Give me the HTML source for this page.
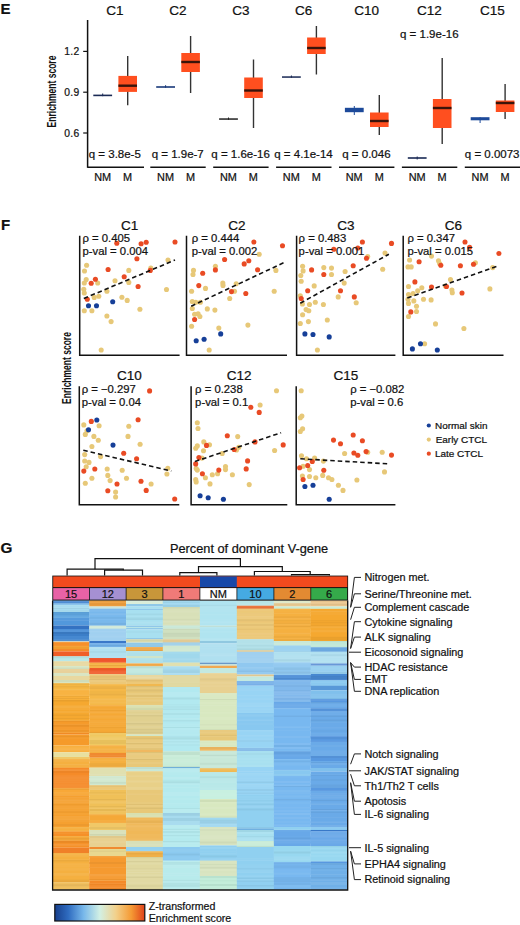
<!DOCTYPE html><html><head><meta charset="utf-8"><style>html,body{margin:0;padding:0;background:#fff;width:520px;height:925px;overflow:hidden}svg{display:block}text{font-family:"Liberation Sans",sans-serif;fill:#111;stroke:#111;stroke-width:0.22px}</style></head><body>
<svg width="520" height="925" viewBox="0 0 520 925">
<text x="0.5" y="14.3" font-size="15" font-weight="bold">E</text>
<line x1="87.6" y1="20" x2="87.6" y2="167.8" stroke="#111" stroke-width="1.5"/>
<line x1="83.2" y1="51.4" x2="87.6" y2="51.4" stroke="#111" stroke-width="1.2"/>
<text x="79.8" y="55.0" font-size="10.3" letter-spacing="0.45" text-anchor="end">1.2</text>
<line x1="83.2" y1="92.2" x2="87.6" y2="92.2" stroke="#111" stroke-width="1.2"/>
<text x="79.8" y="95.8" font-size="10.3" letter-spacing="0.45" text-anchor="end">0.9</text>
<line x1="83.2" y1="133.0" x2="87.6" y2="133.0" stroke="#111" stroke-width="1.2"/>
<text x="79.8" y="136.6" font-size="10.3" letter-spacing="0.45" text-anchor="end">0.6</text>
<text transform="translate(56,91.5) rotate(-90) scale(0.675,1)" x="0" y="0" font-size="12.6" font-weight="bold" style="stroke-width:0" text-anchor="middle">Enrichment score</text>
<text x="115.0" y="15.2" font-size="13.5" text-anchor="middle">C1</text>
<line x1="87.6" y1="167.3" x2="144.0" y2="167.3" stroke="#111" stroke-width="1.5"/>
<text x="102.6" y="181" font-size="10.9" text-anchor="middle">NM</text>
<text x="127.6" y="181" font-size="10.9" text-anchor="middle">M</text>
<text x="114.8" y="158" font-size="11.5" text-anchor="middle">q = 3.8e-5</text>
<line x1="102.7" y1="93.5" x2="102.7" y2="96.2" stroke="#1a2a55" stroke-width="1"/>
<rect x="93.3" y="94.6" width="18.8" height="1.6" fill="#1a2a55"/>
<line x1="127.7" y1="56" x2="127.7" y2="105.3" stroke="#333" stroke-width="1.4"/>
<rect x="118.4" y="75.9" width="18.6" height="16.0" fill="#ff4f1f"/>
<rect x="118.4" y="84.5" width="18.6" height="2.4" fill="#3a140a"/>
<text x="177.9" y="15.2" font-size="13.5" text-anchor="middle">C2</text>
<line x1="150.3" y1="167.3" x2="205.7" y2="167.3" stroke="#111" stroke-width="1.5"/>
<text x="165.5" y="181" font-size="10.9" text-anchor="middle">NM</text>
<text x="190.5" y="181" font-size="10.9" text-anchor="middle">M</text>
<text x="177.7" y="158" font-size="11.5" text-anchor="middle">q = 1.9e-7</text>
<line x1="165.6" y1="85.2" x2="165.6" y2="87.8" stroke="#1a3a7a" stroke-width="1"/>
<rect x="156.2" y="86.2" width="18.8" height="1.6" fill="#1a3a7a"/>
<line x1="190.6" y1="36" x2="190.6" y2="93" stroke="#333" stroke-width="1.4"/>
<rect x="181.3" y="53" width="18.6" height="19.0" fill="#ff4f1f"/>
<rect x="181.3" y="60.8" width="18.6" height="2.4" fill="#3a140a"/>
<text x="240.8" y="15.2" font-size="13.5" text-anchor="middle">C3</text>
<line x1="213.2" y1="167.3" x2="268.6" y2="167.3" stroke="#111" stroke-width="1.5"/>
<text x="228.4" y="181" font-size="10.9" text-anchor="middle">NM</text>
<text x="253.4" y="181" font-size="10.9" text-anchor="middle">M</text>
<text x="240.6" y="158" font-size="11.5" text-anchor="middle">q = 1.6e-16</text>
<line x1="228.5" y1="117.5" x2="228.5" y2="119.8" stroke="#222" stroke-width="1"/>
<rect x="219.1" y="118.3" width="18.8" height="1.5" fill="#222"/>
<line x1="253.5" y1="59.5" x2="253.5" y2="128" stroke="#333" stroke-width="1.4"/>
<rect x="244.2" y="77.5" width="18.6" height="20.5" fill="#ff4f1f"/>
<rect x="244.2" y="89.3" width="18.6" height="2.4" fill="#3a140a"/>
<text x="303.7" y="15.2" font-size="13.5" text-anchor="middle">C6</text>
<line x1="276.1" y1="167.3" x2="331.5" y2="167.3" stroke="#111" stroke-width="1.5"/>
<text x="291.3" y="181" font-size="10.9" text-anchor="middle">NM</text>
<text x="316.3" y="181" font-size="10.9" text-anchor="middle">M</text>
<text x="303.5" y="158" font-size="11.5" text-anchor="middle">q = 4.1e-14</text>
<line x1="291.4" y1="75.5" x2="291.4" y2="77.8" stroke="#1a2a55" stroke-width="1"/>
<rect x="282.0" y="76.3" width="18.8" height="1.5" fill="#1a2a55"/>
<line x1="316.4" y1="26" x2="316.4" y2="74.5" stroke="#333" stroke-width="1.4"/>
<rect x="307.1" y="37.5" width="18.6" height="16.5" fill="#ff4f1f"/>
<rect x="307.1" y="46.8" width="18.6" height="2.4" fill="#3a140a"/>
<text x="366.6" y="15.2" font-size="13.5" text-anchor="middle">C10</text>
<line x1="339.0" y1="167.3" x2="394.4" y2="167.3" stroke="#111" stroke-width="1.5"/>
<text x="354.2" y="181" font-size="10.9" text-anchor="middle">NM</text>
<text x="379.2" y="181" font-size="10.9" text-anchor="middle">M</text>
<text x="366.4" y="158" font-size="11.5" text-anchor="middle">q = 0.046</text>
<line x1="354.3" y1="106" x2="354.3" y2="115" stroke="#1d4a9a" stroke-width="1"/>
<rect x="344.9" y="107.8" width="18.8" height="4.4" fill="#1d4a9a"/>
<line x1="379.3" y1="95" x2="379.3" y2="135" stroke="#333" stroke-width="1.4"/>
<rect x="370.0" y="112.5" width="18.6" height="14.5" fill="#ff4f1f"/>
<rect x="370.0" y="119.8" width="18.6" height="2.4" fill="#3a140a"/>
<text x="429.5" y="15.2" font-size="13.5" text-anchor="middle">C12</text>
<line x1="401.9" y1="167.3" x2="457.3" y2="167.3" stroke="#111" stroke-width="1.5"/>
<text x="417.1" y="181" font-size="10.9" text-anchor="middle">NM</text>
<text x="442.1" y="181" font-size="10.9" text-anchor="middle">M</text>
<text x="429.3" y="38" font-size="11.5" text-anchor="middle">q = 1.9e-16</text>
<line x1="417.2" y1="156.5" x2="417.2" y2="159.5" stroke="#1a2a55" stroke-width="1"/>
<rect x="407.8" y="157.2" width="18.8" height="1.6" fill="#1a2a55"/>
<line x1="442.2" y1="58" x2="442.2" y2="144" stroke="#333" stroke-width="1.4"/>
<rect x="432.9" y="99" width="18.6" height="29.0" fill="#ff4f1f"/>
<rect x="432.9" y="106.8" width="18.6" height="2.4" fill="#3a140a"/>
<text x="492.4" y="15.2" font-size="13.5" text-anchor="middle">C15</text>
<line x1="464.8" y1="167.3" x2="520.2" y2="167.3" stroke="#111" stroke-width="1.5"/>
<text x="480.0" y="181" font-size="10.9" text-anchor="middle">NM</text>
<text x="505.0" y="181" font-size="10.9" text-anchor="middle">M</text>
<text x="492.2" y="158" font-size="11.5" text-anchor="middle">q = 0.0073</text>
<line x1="480.1" y1="117.2" x2="480.1" y2="123" stroke="#1d4a9a" stroke-width="1"/>
<rect x="470.7" y="117.2" width="18.8" height="3.1" fill="#1d4a9a"/>
<line x1="505.1" y1="84" x2="505.1" y2="119" stroke="#333" stroke-width="1.4"/>
<rect x="495.8" y="100.5" width="18.6" height="11.5" fill="#ff4f1f"/>
<rect x="495.8" y="101.8" width="18.6" height="2.4" fill="#3a140a"/>
<text x="1" y="229.5" font-size="15" font-weight="bold">F</text>
<text transform="translate(70.5,368) rotate(-90) scale(0.675,1)" x="0" y="0" font-size="12.6" font-weight="bold" style="stroke-width:0" text-anchor="middle">Enrichment score</text>
<text x="129.7" y="229.5" font-size="13.5" text-anchor="middle">C1</text>
<circle cx="86.6" cy="265.3" r="2.55" fill="#e7c878"/>
<circle cx="84.5" cy="271" r="2.55" fill="#e7c878"/>
<circle cx="86.2" cy="279.6" r="2.55" fill="#e7c878"/>
<circle cx="84.3" cy="283" r="2.55" fill="#e7c878"/>
<circle cx="83.8" cy="289.3" r="2.55" fill="#e7c878"/>
<circle cx="84.3" cy="293" r="2.55" fill="#e7c878"/>
<circle cx="97.7" cy="283" r="2.55" fill="#e7c878"/>
<circle cx="115" cy="280.8" r="2.55" fill="#e7c878"/>
<circle cx="128.8" cy="270.4" r="2.55" fill="#e7c878"/>
<circle cx="128.8" cy="282.4" r="2.55" fill="#e7c878"/>
<circle cx="150.8" cy="268" r="2.55" fill="#e7c878"/>
<circle cx="168" cy="260" r="2.55" fill="#e7c878"/>
<circle cx="166.5" cy="289.5" r="2.55" fill="#e7c878"/>
<circle cx="106.9" cy="291.2" r="2.55" fill="#e7c878"/>
<circle cx="98.8" cy="296.2" r="2.55" fill="#e7c878"/>
<circle cx="94.2" cy="297.4" r="2.55" fill="#e7c878"/>
<circle cx="121.9" cy="297.2" r="2.55" fill="#e7c878"/>
<circle cx="127.2" cy="300.4" r="2.55" fill="#e7c878"/>
<circle cx="84.3" cy="310.8" r="2.55" fill="#e7c878"/>
<circle cx="91.9" cy="310.8" r="2.55" fill="#e7c878"/>
<circle cx="139.9" cy="309.2" r="2.55" fill="#e7c878"/>
<circle cx="106.9" cy="316" r="2.55" fill="#e7c878"/>
<circle cx="111.1" cy="321.6" r="2.55" fill="#e7c878"/>
<circle cx="101.2" cy="350" r="2.55" fill="#e7c878"/>
<circle cx="116.8" cy="243.2" r="2.55" fill="#e94b24"/>
<circle cx="141.1" cy="243.8" r="2.55" fill="#e94b24"/>
<circle cx="146.2" cy="242.2" r="2.55" fill="#e94b24"/>
<circle cx="175" cy="242" r="2.55" fill="#e94b24"/>
<circle cx="136.9" cy="258.8" r="2.55" fill="#e94b24"/>
<circle cx="108.1" cy="269.5" r="2.55" fill="#e94b24"/>
<circle cx="124.2" cy="276.8" r="2.55" fill="#e94b24"/>
<circle cx="95.4" cy="279.2" r="2.55" fill="#e94b24"/>
<circle cx="91.2" cy="283.3" r="2.55" fill="#e94b24"/>
<circle cx="138.1" cy="286.5" r="2.55" fill="#e94b24"/>
<circle cx="150.3" cy="270.4" r="2.55" fill="#e94b24"/>
<circle cx="87.3" cy="299.2" r="2.55" fill="#e94b24"/>
<circle cx="88.5" cy="305.7" r="2.55" fill="#163f98"/>
<circle cx="96.5" cy="305.7" r="2.55" fill="#163f98"/>
<circle cx="112.7" cy="301.8" r="2.55" fill="#163f98"/>
<line x1="83.8" y1="298.5" x2="175" y2="260" stroke="#111" stroke-width="1.6" stroke-dasharray="4.5,3"/>
<polyline points="79.7,235.8 79.7,355.2 179.6,355.2" fill="none" stroke="#111" stroke-width="1.5"/>
<text x="82.5" y="242.1" font-size="11.3">ρ = 0.405</text>
<text x="82.5" y="255.3" font-size="11.3">p-val = 0.004</text>
<text x="236.8" y="229.5" font-size="13.5" text-anchor="middle">C2</text>
<circle cx="259.2" cy="254.2" r="2.55" fill="#e7c878"/>
<circle cx="215.4" cy="266.2" r="2.55" fill="#e7c878"/>
<circle cx="193.5" cy="270.4" r="2.55" fill="#e7c878"/>
<circle cx="193" cy="274.5" r="2.55" fill="#e7c878"/>
<circle cx="222.8" cy="283.1" r="2.55" fill="#e7c878"/>
<circle cx="223" cy="285.4" r="2.55" fill="#e7c878"/>
<circle cx="236.2" cy="283.8" r="2.55" fill="#e7c878"/>
<circle cx="205.5" cy="288.4" r="2.55" fill="#e7c878"/>
<circle cx="191.6" cy="291.2" r="2.55" fill="#e7c878"/>
<circle cx="234.5" cy="291.2" r="2.55" fill="#e7c878"/>
<circle cx="229.7" cy="298.5" r="2.55" fill="#e7c878"/>
<circle cx="275.9" cy="270.4" r="2.55" fill="#e7c878"/>
<circle cx="274.2" cy="291.2" r="2.55" fill="#e7c878"/>
<circle cx="192.3" cy="301.5" r="2.55" fill="#e7c878"/>
<circle cx="195.8" cy="302.2" r="2.55" fill="#e7c878"/>
<circle cx="200.4" cy="302.2" r="2.55" fill="#e7c878"/>
<circle cx="192.3" cy="308.5" r="2.55" fill="#e7c878"/>
<circle cx="207.3" cy="308.9" r="2.55" fill="#e7c878"/>
<circle cx="214.9" cy="310.1" r="2.55" fill="#e7c878"/>
<circle cx="194.6" cy="314.2" r="2.55" fill="#e7c878"/>
<circle cx="198.1" cy="313.8" r="2.55" fill="#e7c878"/>
<circle cx="199.9" cy="316.5" r="2.55" fill="#e7c878"/>
<circle cx="191.6" cy="326.2" r="2.55" fill="#e7c878"/>
<circle cx="218.8" cy="328.1" r="2.55" fill="#e7c878"/>
<circle cx="247.9" cy="325.1" r="2.55" fill="#e7c878"/>
<circle cx="209.2" cy="350" r="2.55" fill="#e7c878"/>
<circle cx="253.9" cy="242" r="2.55" fill="#e94b24"/>
<circle cx="282.5" cy="245.7" r="2.55" fill="#e94b24"/>
<circle cx="224.6" cy="259.5" r="2.55" fill="#e94b24"/>
<circle cx="244.2" cy="263.9" r="2.55" fill="#e94b24"/>
<circle cx="248.8" cy="260.7" r="2.55" fill="#e94b24"/>
<circle cx="215.4" cy="269.9" r="2.55" fill="#e94b24"/>
<circle cx="202.7" cy="273.2" r="2.55" fill="#e94b24"/>
<circle cx="257.6" cy="269.7" r="2.55" fill="#e94b24"/>
<circle cx="198.8" cy="285.6" r="2.55" fill="#e94b24"/>
<circle cx="231.5" cy="291.6" r="2.55" fill="#e94b24"/>
<circle cx="245.8" cy="293.5" r="2.55" fill="#e94b24"/>
<circle cx="194.6" cy="319.5" r="2.55" fill="#e94b24"/>
<circle cx="196.2" cy="340.8" r="2.55" fill="#163f98"/>
<circle cx="204.1" cy="339.2" r="2.55" fill="#163f98"/>
<circle cx="220.7" cy="333.9" r="2.55" fill="#163f98"/>
<line x1="191.2" y1="306.2" x2="283.5" y2="262.8" stroke="#111" stroke-width="1.6" stroke-dasharray="4.5,3"/>
<polyline points="186.5,235.8 186.5,355.2 287,355.2" fill="none" stroke="#111" stroke-width="1.5"/>
<text x="191.7" y="242.1" font-size="11.3">ρ = 0.444</text>
<text x="191.7" y="255.3" font-size="11.3">p-val = 0.002</text>
<text x="346.0" y="229.5" font-size="13.5" text-anchor="middle">C3</text>
<circle cx="385" cy="253.1" r="2.55" fill="#e7c878"/>
<circle cx="367.7" cy="256.5" r="2.55" fill="#e7c878"/>
<circle cx="302.6" cy="266.2" r="2.55" fill="#e7c878"/>
<circle cx="303.1" cy="270.9" r="2.55" fill="#e7c878"/>
<circle cx="300.8" cy="275.5" r="2.55" fill="#e7c878"/>
<circle cx="301.2" cy="281.2" r="2.55" fill="#e7c878"/>
<circle cx="323.8" cy="267.6" r="2.55" fill="#e7c878"/>
<circle cx="331.5" cy="268.1" r="2.55" fill="#e7c878"/>
<circle cx="331.5" cy="274.5" r="2.55" fill="#e7c878"/>
<circle cx="345.1" cy="271.5" r="2.55" fill="#e7c878"/>
<circle cx="382.7" cy="269.2" r="2.55" fill="#e7c878"/>
<circle cx="344.2" cy="283.1" r="2.55" fill="#e7c878"/>
<circle cx="314.2" cy="285.9" r="2.55" fill="#e7c878"/>
<circle cx="338.2" cy="296.9" r="2.55" fill="#e7c878"/>
<circle cx="356.2" cy="302.7" r="2.55" fill="#e7c878"/>
<circle cx="300.3" cy="295.8" r="2.55" fill="#e7c878"/>
<circle cx="302.4" cy="303.9" r="2.55" fill="#e7c878"/>
<circle cx="309.5" cy="304.5" r="2.55" fill="#e7c878"/>
<circle cx="315.3" cy="302.2" r="2.55" fill="#e7c878"/>
<circle cx="323.4" cy="304.5" r="2.55" fill="#e7c878"/>
<circle cx="306.1" cy="309.6" r="2.55" fill="#e7c878"/>
<circle cx="308.8" cy="310.8" r="2.55" fill="#e7c878"/>
<circle cx="302.6" cy="314.7" r="2.55" fill="#e7c878"/>
<circle cx="300.3" cy="323.5" r="2.55" fill="#e7c878"/>
<circle cx="308.4" cy="321.6" r="2.55" fill="#e7c878"/>
<circle cx="327.3" cy="320" r="2.55" fill="#e7c878"/>
<circle cx="317.4" cy="350" r="2.55" fill="#e7c878"/>
<circle cx="362.4" cy="242" r="2.55" fill="#e94b24"/>
<circle cx="391.5" cy="243.4" r="2.55" fill="#e94b24"/>
<circle cx="333.8" cy="249.2" r="2.55" fill="#e94b24"/>
<circle cx="357.8" cy="248" r="2.55" fill="#e94b24"/>
<circle cx="366.5" cy="258.2" r="2.55" fill="#e94b24"/>
<circle cx="353.2" cy="265.8" r="2.55" fill="#e94b24"/>
<circle cx="311.6" cy="269.9" r="2.55" fill="#e94b24"/>
<circle cx="323.8" cy="274.5" r="2.55" fill="#e94b24"/>
<circle cx="307.7" cy="290.7" r="2.55" fill="#e94b24"/>
<circle cx="340.5" cy="290.7" r="2.55" fill="#e94b24"/>
<circle cx="354.3" cy="296.9" r="2.55" fill="#e94b24"/>
<circle cx="301.2" cy="298.5" r="2.55" fill="#e94b24"/>
<circle cx="304.9" cy="333.9" r="2.55" fill="#163f98"/>
<circle cx="313" cy="334.5" r="2.55" fill="#163f98"/>
<circle cx="329.2" cy="336.9" r="2.55" fill="#163f98"/>
<line x1="300.3" y1="303.2" x2="388.9" y2="254.2" stroke="#111" stroke-width="1.6" stroke-dasharray="4.5,3"/>
<polyline points="296.6,235.8 296.6,355.2 395.4,355.2" fill="none" stroke="#111" stroke-width="1.5"/>
<text x="298.6" y="242.1" font-size="11.3">ρ = 0.483</text>
<text x="298.6" y="255.3" font-size="11.3">p-val = 0.001</text>
<text x="453.4" y="229.5" font-size="13.5" text-anchor="middle">C6</text>
<circle cx="409.6" cy="260" r="2.55" fill="#e7c878"/>
<circle cx="408" cy="266.9" r="2.55" fill="#e7c878"/>
<circle cx="411.2" cy="266.9" r="2.55" fill="#e7c878"/>
<circle cx="431.5" cy="256.1" r="2.55" fill="#e7c878"/>
<circle cx="438.5" cy="260.7" r="2.55" fill="#e7c878"/>
<circle cx="439.6" cy="263.5" r="2.55" fill="#e7c878"/>
<circle cx="475.4" cy="262.8" r="2.55" fill="#e7c878"/>
<circle cx="492.7" cy="267.6" r="2.55" fill="#e7c878"/>
<circle cx="450.5" cy="279.6" r="2.55" fill="#e7c878"/>
<circle cx="445.4" cy="286.1" r="2.55" fill="#e7c878"/>
<circle cx="451.9" cy="290" r="2.55" fill="#e7c878"/>
<circle cx="452.3" cy="292.8" r="2.55" fill="#e7c878"/>
<circle cx="489.9" cy="288.9" r="2.55" fill="#e7c878"/>
<circle cx="408.5" cy="286.5" r="2.55" fill="#e7c878"/>
<circle cx="417.7" cy="290.7" r="2.55" fill="#e7c878"/>
<circle cx="421.8" cy="287.7" r="2.55" fill="#e7c878"/>
<circle cx="413.1" cy="293.5" r="2.55" fill="#e7c878"/>
<circle cx="408.5" cy="294.6" r="2.55" fill="#e7c878"/>
<circle cx="423.5" cy="299.2" r="2.55" fill="#e7c878"/>
<circle cx="431.1" cy="299.9" r="2.55" fill="#e7c878"/>
<circle cx="408" cy="299.2" r="2.55" fill="#e7c878"/>
<circle cx="408.5" cy="303.4" r="2.55" fill="#e7c878"/>
<circle cx="413.8" cy="300.9" r="2.55" fill="#e7c878"/>
<circle cx="416.5" cy="306.2" r="2.55" fill="#e7c878"/>
<circle cx="416.5" cy="311.5" r="2.55" fill="#e7c878"/>
<circle cx="408.5" cy="316.5" r="2.55" fill="#e7c878"/>
<circle cx="435.5" cy="323.9" r="2.55" fill="#e7c878"/>
<circle cx="463.9" cy="328.5" r="2.55" fill="#e7c878"/>
<circle cx="424.6" cy="343.8" r="2.55" fill="#e7c878"/>
<circle cx="465" cy="242" r="2.55" fill="#e94b24"/>
<circle cx="469.6" cy="247.3" r="2.55" fill="#e94b24"/>
<circle cx="498.9" cy="253.5" r="2.55" fill="#e94b24"/>
<circle cx="419.1" cy="261.8" r="2.55" fill="#e94b24"/>
<circle cx="440.8" cy="265.3" r="2.55" fill="#e94b24"/>
<circle cx="460.4" cy="265.8" r="2.55" fill="#e94b24"/>
<circle cx="473.5" cy="264.2" r="2.55" fill="#e94b24"/>
<circle cx="414.9" cy="281.9" r="2.55" fill="#e94b24"/>
<circle cx="431.5" cy="287" r="2.55" fill="#e94b24"/>
<circle cx="446.5" cy="286.5" r="2.55" fill="#e94b24"/>
<circle cx="462" cy="293" r="2.55" fill="#e94b24"/>
<circle cx="410.8" cy="311.9" r="2.55" fill="#e94b24"/>
<circle cx="412.4" cy="348.9" r="2.55" fill="#163f98"/>
<circle cx="420.5" cy="343.8" r="2.55" fill="#163f98"/>
<circle cx="437.3" cy="350" r="2.55" fill="#163f98"/>
<line x1="407.3" y1="298.1" x2="498.5" y2="265.8" stroke="#111" stroke-width="1.6" stroke-dasharray="4.5,3"/>
<polyline points="403.2,235.8 403.2,355.2 503.5,355.2" fill="none" stroke="#111" stroke-width="1.5"/>
<text x="407.4" y="242.1" font-size="11.3">ρ = 0.347</text>
<text x="407.4" y="255.3" font-size="11.3">p-val = 0.015</text>
<text x="129.3" y="380.0" font-size="13.5" text-anchor="middle">C10</text>
<circle cx="83.8" cy="424.9" r="2.55" fill="#e7c878"/>
<circle cx="99.1" cy="425.8" r="2.55" fill="#e7c878"/>
<circle cx="128.8" cy="426.3" r="2.55" fill="#e7c878"/>
<circle cx="87" cy="430.7" r="2.55" fill="#e7c878"/>
<circle cx="85.3" cy="434.4" r="2.55" fill="#e7c878"/>
<circle cx="93.9" cy="436.4" r="2.55" fill="#e7c878"/>
<circle cx="98.3" cy="440.2" r="2.55" fill="#e7c878"/>
<circle cx="128" cy="436.4" r="2.55" fill="#e7c878"/>
<circle cx="140.1" cy="444.2" r="2.55" fill="#e7c878"/>
<circle cx="91.9" cy="446.5" r="2.55" fill="#e7c878"/>
<circle cx="84.7" cy="454.6" r="2.55" fill="#e7c878"/>
<circle cx="100.6" cy="456.6" r="2.55" fill="#e7c878"/>
<circle cx="84.7" cy="461" r="2.55" fill="#e7c878"/>
<circle cx="89" cy="462.4" r="2.55" fill="#e7c878"/>
<circle cx="86.2" cy="466.7" r="2.55" fill="#e7c878"/>
<circle cx="107.2" cy="469" r="2.55" fill="#e7c878"/>
<circle cx="122.2" cy="470.2" r="2.55" fill="#e7c878"/>
<circle cx="167.8" cy="468.2" r="2.55" fill="#e7c878"/>
<circle cx="166.9" cy="474" r="2.55" fill="#e7c878"/>
<circle cx="107.8" cy="475.4" r="2.55" fill="#e7c878"/>
<circle cx="91.9" cy="478.3" r="2.55" fill="#e7c878"/>
<circle cx="110.1" cy="480.6" r="2.55" fill="#e7c878"/>
<circle cx="126.5" cy="478.3" r="2.55" fill="#e7c878"/>
<circle cx="151.1" cy="484" r="2.55" fill="#e7c878"/>
<circle cx="85.3" cy="483.2" r="2.55" fill="#e7c878"/>
<circle cx="115.6" cy="492.1" r="2.55" fill="#e7c878"/>
<circle cx="115.6" cy="497" r="2.55" fill="#e7c878"/>
<circle cx="149.6" cy="390.9" r="2.55" fill="#e94b24"/>
<circle cx="91.3" cy="421.4" r="2.55" fill="#e94b24"/>
<circle cx="138.1" cy="419.7" r="2.55" fill="#e94b24"/>
<circle cx="123.7" cy="453.2" r="2.55" fill="#e94b24"/>
<circle cx="136.6" cy="458.7" r="2.55" fill="#e94b24"/>
<circle cx="83.8" cy="471.1" r="2.55" fill="#e94b24"/>
<circle cx="94.8" cy="469" r="2.55" fill="#e94b24"/>
<circle cx="141" cy="481.2" r="2.55" fill="#e94b24"/>
<circle cx="117" cy="484" r="2.55" fill="#e94b24"/>
<circle cx="107.8" cy="490.7" r="2.55" fill="#e94b24"/>
<circle cx="146.2" cy="490.4" r="2.55" fill="#e94b24"/>
<circle cx="174.7" cy="499" r="2.55" fill="#e94b24"/>
<circle cx="96.8" cy="420" r="2.55" fill="#163f98"/>
<circle cx="88.5" cy="429.8" r="2.55" fill="#163f98"/>
<circle cx="113" cy="445.1" r="2.55" fill="#163f98"/>
<line x1="83.3" y1="450.3" x2="171.3" y2="471" stroke="#111" stroke-width="1.6" stroke-dasharray="4.5,3"/>
<polyline points="79.3,386.3 79.3,504.8 179.3,504.8" fill="none" stroke="#111" stroke-width="1.5"/>
<text x="81.7" y="392.6" font-size="11.3">ρ = −0.297</text>
<text x="81.7" y="405.8" font-size="11.3">p-val = 0.04</text>
<text x="239.2" y="380.0" font-size="13.5" text-anchor="middle">C12</text>
<circle cx="276.5" cy="390.7" r="2.55" fill="#e7c878"/>
<circle cx="260.1" cy="405" r="2.55" fill="#e7c878"/>
<circle cx="197.3" cy="422.8" r="2.55" fill="#e7c878"/>
<circle cx="198" cy="428.5" r="2.55" fill="#e7c878"/>
<circle cx="237.7" cy="436.6" r="2.55" fill="#e7c878"/>
<circle cx="203.8" cy="441.9" r="2.55" fill="#e7c878"/>
<circle cx="209.5" cy="444.7" r="2.55" fill="#e7c878"/>
<circle cx="197.3" cy="445.9" r="2.55" fill="#e7c878"/>
<circle cx="195.7" cy="448.2" r="2.55" fill="#e7c878"/>
<circle cx="203.5" cy="450.7" r="2.55" fill="#e7c878"/>
<circle cx="238.8" cy="447.2" r="2.55" fill="#e7c878"/>
<circle cx="236.5" cy="450" r="2.55" fill="#e7c878"/>
<circle cx="274.6" cy="450.5" r="2.55" fill="#e7c878"/>
<circle cx="222.2" cy="453.5" r="2.55" fill="#e7c878"/>
<circle cx="201.9" cy="458.1" r="2.55" fill="#e7c878"/>
<circle cx="196.2" cy="468.5" r="2.55" fill="#e7c878"/>
<circle cx="197.3" cy="470.1" r="2.55" fill="#e7c878"/>
<circle cx="225.5" cy="466.6" r="2.55" fill="#e7c878"/>
<circle cx="225.5" cy="469.6" r="2.55" fill="#e7c878"/>
<circle cx="212.3" cy="474.7" r="2.55" fill="#e7c878"/>
<circle cx="217.6" cy="473.8" r="2.55" fill="#e7c878"/>
<circle cx="232.4" cy="474.7" r="2.55" fill="#e7c878"/>
<circle cx="205.4" cy="477.7" r="2.55" fill="#e7c878"/>
<circle cx="195.7" cy="479.5" r="2.55" fill="#e7c878"/>
<circle cx="196.2" cy="481.9" r="2.55" fill="#e7c878"/>
<circle cx="210" cy="483.9" r="2.55" fill="#e7c878"/>
<circle cx="249.2" cy="484.6" r="2.55" fill="#e7c878"/>
<circle cx="250.8" cy="407.3" r="2.55" fill="#e94b24"/>
<circle cx="259.2" cy="412.4" r="2.55" fill="#e94b24"/>
<circle cx="227.3" cy="435.7" r="2.55" fill="#e94b24"/>
<circle cx="206.5" cy="445.4" r="2.55" fill="#e94b24"/>
<circle cx="255" cy="441.9" r="2.55" fill="#e94b24"/>
<circle cx="283.2" cy="444.9" r="2.55" fill="#e94b24"/>
<circle cx="234.2" cy="449.5" r="2.55" fill="#e94b24"/>
<circle cx="198.9" cy="457.6" r="2.55" fill="#e94b24"/>
<circle cx="195.7" cy="463.9" r="2.55" fill="#e94b24"/>
<circle cx="247.6" cy="460.9" r="2.55" fill="#e94b24"/>
<circle cx="246.2" cy="468.9" r="2.55" fill="#e94b24"/>
<circle cx="218.8" cy="470.1" r="2.55" fill="#e94b24"/>
<circle cx="202.4" cy="473.8" r="2.55" fill="#e94b24"/>
<circle cx="200.1" cy="495.7" r="2.55" fill="#163f98"/>
<circle cx="208.2" cy="497.8" r="2.55" fill="#163f98"/>
<circle cx="223.4" cy="499.2" r="2.55" fill="#163f98"/>
<line x1="195" y1="461.5" x2="281.1" y2="432.7" stroke="#111" stroke-width="1.6" stroke-dasharray="4.5,3"/>
<polyline points="191.1,386.3 191.1,504.8 287.3,504.8" fill="none" stroke="#111" stroke-width="1.5"/>
<text x="195.1" y="392.6" font-size="11.3">ρ = 0.238</text>
<text x="195.1" y="405.8" font-size="11.3">p-val = 0.1</text>
<text x="345.8" y="380.0" font-size="13.5" text-anchor="middle">C15</text>
<circle cx="301.2" cy="390.7" r="2.55" fill="#e7c878"/>
<circle cx="301.9" cy="416.1" r="2.55" fill="#e7c878"/>
<circle cx="300.3" cy="417.7" r="2.55" fill="#e7c878"/>
<circle cx="302.6" cy="428.8" r="2.55" fill="#e7c878"/>
<circle cx="300.3" cy="431.5" r="2.55" fill="#e7c878"/>
<circle cx="301.5" cy="455.8" r="2.55" fill="#e7c878"/>
<circle cx="306.5" cy="458.8" r="2.55" fill="#e7c878"/>
<circle cx="314.6" cy="458.1" r="2.55" fill="#e7c878"/>
<circle cx="323.4" cy="461.1" r="2.55" fill="#e7c878"/>
<circle cx="344.6" cy="453.5" r="2.55" fill="#e7c878"/>
<circle cx="367.7" cy="452.3" r="2.55" fill="#e7c878"/>
<circle cx="382.2" cy="452.3" r="2.55" fill="#e7c878"/>
<circle cx="384.5" cy="471.9" r="2.55" fill="#e7c878"/>
<circle cx="303.1" cy="466.2" r="2.55" fill="#e7c878"/>
<circle cx="309.5" cy="469.6" r="2.55" fill="#e7c878"/>
<circle cx="302.4" cy="476.1" r="2.55" fill="#e7c878"/>
<circle cx="309.5" cy="476.5" r="2.55" fill="#e7c878"/>
<circle cx="315.8" cy="477.7" r="2.55" fill="#e7c878"/>
<circle cx="322.7" cy="475.4" r="2.55" fill="#e7c878"/>
<circle cx="328.5" cy="477.7" r="2.55" fill="#e7c878"/>
<circle cx="331.9" cy="479.5" r="2.55" fill="#e7c878"/>
<circle cx="338.4" cy="485.3" r="2.55" fill="#e7c878"/>
<circle cx="343" cy="490.4" r="2.55" fill="#e7c878"/>
<circle cx="356.9" cy="480" r="2.55" fill="#e7c878"/>
<circle cx="353.2" cy="435" r="2.55" fill="#e94b24"/>
<circle cx="333.5" cy="440.1" r="2.55" fill="#e94b24"/>
<circle cx="340.5" cy="443.8" r="2.55" fill="#e94b24"/>
<circle cx="362.4" cy="440.8" r="2.55" fill="#e94b24"/>
<circle cx="353.9" cy="453" r="2.55" fill="#e94b24"/>
<circle cx="357.8" cy="455.3" r="2.55" fill="#e94b24"/>
<circle cx="366.1" cy="451.6" r="2.55" fill="#e94b24"/>
<circle cx="391.5" cy="455.1" r="2.55" fill="#e94b24"/>
<circle cx="312.3" cy="461.5" r="2.55" fill="#e94b24"/>
<circle cx="307.7" cy="465.5" r="2.55" fill="#e94b24"/>
<circle cx="299.6" cy="467.8" r="2.55" fill="#e94b24"/>
<circle cx="323.8" cy="470.3" r="2.55" fill="#e94b24"/>
<circle cx="303.1" cy="479.5" r="2.55" fill="#e94b24"/>
<circle cx="304.9" cy="486.5" r="2.55" fill="#163f98"/>
<circle cx="313" cy="485.3" r="2.55" fill="#163f98"/>
<circle cx="329.2" cy="499.2" r="2.55" fill="#163f98"/>
<line x1="300.3" y1="458.8" x2="389.6" y2="463.9" stroke="#111" stroke-width="1.6" stroke-dasharray="4.5,3"/>
<polyline points="296.2,386.3 296.2,504.8 395.4,504.8" fill="none" stroke="#111" stroke-width="1.5"/>
<text x="350.2" y="392.6" font-size="11.3">ρ = −0.082</text>
<text x="350.2" y="405.8" font-size="11.3">p-val = 0.6</text>
<circle cx="428.8" cy="425.5" r="2.1" fill="#163f98"/>
<text x="435" y="429.1" font-size="9.95">Normal skin</text>
<circle cx="428.8" cy="439.6" r="2.1" fill="#e7c878"/>
<text x="435.7" y="443.2" font-size="9.95">Early CTCL</text>
<circle cx="428.8" cy="453.7" r="2.1" fill="#e94b24"/>
<text x="435" y="457.3" font-size="9.95">Late CTCL</text>
<text x="0.6" y="552.8" font-size="15.3" font-weight="bold">G</text>
<text x="170" y="553.2" font-size="12.75">Percent of dominant V-gene</text>
<path d="M95,569.2 V558.7 H240.4 V566.7" stroke="#111" stroke-width="1.2" fill="none"/>
<path d="M67.1,575.5 V569.2 H123.3 V570.2" stroke="#111" stroke-width="1.2" fill="none"/>
<path d="M104.6,575.5 V570.2 H142.5 V575.5" stroke="#111" stroke-width="1.2" fill="none"/>
<path d="M179.8,575.5 V572.7 H216.9 V575.5" stroke="#111" stroke-width="1.2" fill="none"/>
<path d="M198.5,572.7 V566.7 H282.3 V571.5" stroke="#111" stroke-width="1.2" fill="none"/>
<path d="M254.4,575.5 V571.5 H310.2 V574.6" stroke="#111" stroke-width="1.2" fill="none"/>
<path d="M291.5,575.5 V574.6 H329.4 V575.5" stroke="#111" stroke-width="1.2" fill="none"/>
<rect x="52.3" y="575.6" width="295.8" height="25.2" fill="#111"/>
<rect x="53.2" y="576.4" width="294.1" height="10.7" fill="#f24a1e"/>
<rect x="200.0" y="576.4" width="36.8" height="10.7" fill="#1848a8"/>
<rect x="53.2" y="588.1" width="35.8" height="11.5" fill="#e862a6"/>
<text x="71.1" y="597.7" font-size="11" text-anchor="middle" fill="#1a1a2a">15</text>
<rect x="89.8" y="588.1" width="35.9" height="11.5" fill="#a590d2"/>
<text x="107.8" y="597.7" font-size="11" text-anchor="middle" fill="#1a1a2a">12</text>
<rect x="126.5" y="588.1" width="36.0" height="11.5" fill="#c8963a"/>
<text x="144.5" y="597.7" font-size="11" text-anchor="middle" fill="#1a1a2a">3</text>
<rect x="163.3" y="588.1" width="36.2" height="11.5" fill="#f07a78"/>
<text x="181.4" y="597.7" font-size="11" text-anchor="middle" fill="#1a1a2a">1</text>
<rect x="200.3" y="588.1" width="36.2" height="11.5" fill="#ffffff"/>
<text x="218.4" y="597.7" font-size="11" text-anchor="middle" fill="#1a1a2a">NM</text>
<rect x="237.3" y="588.1" width="36.2" height="11.5" fill="#45aae2"/>
<text x="255.4" y="597.7" font-size="11" text-anchor="middle" fill="#1a1a2a">10</text>
<rect x="274.3" y="588.1" width="36.1" height="11.5" fill="#e38a32"/>
<text x="292.4" y="597.7" font-size="11" text-anchor="middle" fill="#1a1a2a">2</text>
<rect x="311.2" y="588.1" width="35.9" height="11.5" fill="#35aa4a"/>
<text x="329.1" y="597.7" font-size="11" text-anchor="middle" fill="#1a1a2a">6</text>
<rect x="52.8" y="600.8" width="36.65" height="2.75" fill="#4a8ad2"/>
<rect x="52.8" y="600.8" width="36.65" height="1.50" fill="#5893d5"/>
<rect x="52.8" y="602.3" width="36.65" height="1.20" fill="#518ed3"/>
<rect x="52.8" y="603.5" width="36.65" height="1.55" fill="#8cc4ec"/>
<rect x="52.8" y="605.0" width="36.65" height="7.05" fill="#a8dcf0"/>
<rect x="52.8" y="605.0" width="36.65" height="1.00" fill="#addef0"/>
<rect x="52.8" y="607.0" width="36.65" height="1.00" fill="#aedef1"/>
<rect x="52.8" y="608.0" width="36.65" height="1.00" fill="#a0d2e5"/>
<rect x="52.8" y="610.5" width="36.65" height="1.00" fill="#a1d3e7"/>
<rect x="52.8" y="612.0" width="36.65" height="6.05" fill="#5ea5e0"/>
<rect x="52.8" y="612.0" width="36.65" height="1.50" fill="#5a9ed6"/>
<rect x="52.8" y="613.5" width="36.65" height="2.00" fill="#5a9fd8"/>
<rect x="52.8" y="615.5" width="36.65" height="1.00" fill="#64a8e1"/>
<rect x="52.8" y="616.5" width="36.65" height="1.50" fill="#6bace2"/>
<rect x="52.8" y="618.0" width="36.65" height="7.55" fill="#5298dc"/>
<rect x="52.8" y="618.0" width="36.65" height="2.00" fill="#579bdd"/>
<rect x="52.8" y="620.0" width="36.65" height="1.00" fill="#60a0df"/>
<rect x="52.8" y="625.5" width="36.65" height="3.55" fill="#3472c2"/>
<rect x="52.8" y="629.0" width="36.65" height="3.05" fill="#4d90d8"/>
<rect x="52.8" y="630.0" width="36.65" height="2.00" fill="#5595d9"/>
<rect x="52.8" y="632.0" width="36.65" height="4.05" fill="#3c7ec8"/>
<rect x="52.8" y="632.0" width="36.65" height="2.00" fill="#3978bf"/>
<rect x="52.8" y="636.0" width="36.65" height="5.35" fill="#4688d0"/>
<rect x="52.8" y="639.0" width="36.65" height="1.00" fill="#518fd2"/>
<rect x="52.8" y="640.0" width="36.65" height="1.30" fill="#508fd2"/>
<rect x="52.8" y="641.3" width="36.65" height="1.05" fill="#e8d8b0"/>
<rect x="52.8" y="642.3" width="36.65" height="3.75" fill="#f5902a"/>
<rect x="52.8" y="642.3" width="36.65" height="1.00" fill="#f59330"/>
<rect x="52.8" y="645.3" width="36.65" height="0.70" fill="#f59535"/>
<rect x="52.8" y="646.0" width="36.65" height="3.05" fill="#f5a030"/>
<rect x="52.8" y="646.0" width="36.65" height="1.50" fill="#f5a337"/>
<rect x="52.8" y="647.5" width="36.65" height="1.00" fill="#ec9a2e"/>
<rect x="52.8" y="649.0" width="36.65" height="2.55" fill="#f58a2a"/>
<rect x="52.8" y="651.5" width="36.65" height="5.05" fill="#f05e28"/>
<rect x="52.8" y="656.5" width="36.65" height="5.05" fill="#b8e8e8"/>
<rect x="52.8" y="656.5" width="36.65" height="2.00" fill="#b0dede"/>
<rect x="52.8" y="658.5" width="36.65" height="2.00" fill="#bae8e8"/>
<rect x="52.8" y="661.5" width="36.65" height="4.55" fill="#e8d8a0"/>
<rect x="52.8" y="661.5" width="36.65" height="1.50" fill="#e8d9a3"/>
<rect x="52.8" y="663.0" width="36.65" height="2.00" fill="#e9daa5"/>
<rect x="52.8" y="665.0" width="36.65" height="1.00" fill="#e9daa6"/>
<rect x="52.8" y="666.0" width="36.65" height="3.05" fill="#d8e8c8"/>
<rect x="52.8" y="667.5" width="36.65" height="1.50" fill="#cfdebf"/>
<rect x="52.8" y="669.0" width="36.65" height="4.05" fill="#e8d098"/>
<rect x="52.8" y="669.0" width="36.65" height="2.00" fill="#e9d29c"/>
<rect x="52.8" y="671.0" width="36.65" height="2.00" fill="#e8d19b"/>
<rect x="52.8" y="673.0" width="36.65" height="3.05" fill="#d8e4c0"/>
<rect x="52.8" y="673.0" width="36.65" height="2.00" fill="#dae5c4"/>
<rect x="52.8" y="675.0" width="36.65" height="1.00" fill="#d9e5c3"/>
<rect x="52.8" y="676.0" width="36.65" height="4.05" fill="#e8d8a0"/>
<rect x="52.8" y="680.0" width="36.65" height="3.45" fill="#d8e4c0"/>
<rect x="52.8" y="680.0" width="36.65" height="2.00" fill="#d0dcb9"/>
<rect x="52.8" y="683.4" width="36.65" height="6.65" fill="#f5b845"/>
<rect x="52.8" y="683.4" width="36.65" height="1.50" fill="#edb242"/>
<rect x="52.8" y="685.9" width="36.65" height="1.50" fill="#ebb042"/>
<rect x="52.8" y="688.9" width="36.65" height="1.10" fill="#f5bd52"/>
<rect x="52.8" y="690.0" width="36.65" height="10.05" fill="#f8b03a"/>
<rect x="52.8" y="690.0" width="36.65" height="1.50" fill="#f8b547"/>
<rect x="52.8" y="691.5" width="36.65" height="1.50" fill="#f8b343"/>
<rect x="52.8" y="693.0" width="36.65" height="1.50" fill="#f8b342"/>
<rect x="52.8" y="694.5" width="36.65" height="1.50" fill="#f8b64a"/>
<rect x="52.8" y="696.0" width="36.65" height="1.00" fill="#eea937"/>
<rect x="52.8" y="698.0" width="36.65" height="1.00" fill="#eca737"/>
<rect x="52.8" y="700.0" width="36.65" height="20.85" fill="#f5a830"/>
<rect x="52.8" y="700.0" width="36.65" height="1.50" fill="#e89f2d"/>
<rect x="52.8" y="705.0" width="36.65" height="1.00" fill="#f5ac39"/>
<rect x="52.8" y="706.0" width="36.65" height="2.00" fill="#f5af41"/>
<rect x="52.8" y="708.0" width="36.65" height="2.00" fill="#f5ab39"/>
<rect x="52.8" y="711.0" width="36.65" height="2.00" fill="#f5ad3c"/>
<rect x="52.8" y="714.5" width="36.65" height="1.50" fill="#eca22e"/>
<rect x="52.8" y="718.0" width="36.65" height="1.00" fill="#eba12e"/>
<rect x="52.8" y="720.8" width="36.65" height="12.25" fill="#f59a2a"/>
<rect x="52.8" y="720.8" width="36.65" height="1.00" fill="#ec9428"/>
<rect x="52.8" y="723.8" width="36.65" height="1.00" fill="#f5a23b"/>
<rect x="52.8" y="724.8" width="36.65" height="2.00" fill="#e99228"/>
<rect x="52.8" y="726.8" width="36.65" height="1.00" fill="#f59d31"/>
<rect x="52.8" y="727.8" width="36.65" height="1.00" fill="#f59d32"/>
<rect x="52.8" y="728.8" width="36.65" height="1.50" fill="#f59d31"/>
<rect x="52.8" y="730.3" width="36.65" height="1.50" fill="#ec9428"/>
<rect x="52.8" y="731.8" width="36.65" height="1.20" fill="#f5a23c"/>
<rect x="52.8" y="733.0" width="36.65" height="1.55" fill="#f08a25"/>
<rect x="52.8" y="734.5" width="36.65" height="10.95" fill="#f59a2a"/>
<rect x="52.8" y="736.0" width="36.65" height="1.50" fill="#eb9428"/>
<rect x="52.8" y="737.5" width="36.65" height="1.00" fill="#f59f35"/>
<rect x="52.8" y="745.4" width="36.65" height="6.95" fill="#f8b040"/>
<rect x="52.8" y="747.4" width="36.65" height="1.00" fill="#f8b44a"/>
<rect x="52.8" y="748.4" width="36.65" height="1.50" fill="#f8b650"/>
<rect x="52.8" y="749.9" width="36.65" height="1.00" fill="#f8b349"/>
<rect x="52.8" y="752.3" width="36.65" height="4.75" fill="#e8e0a0"/>
<rect x="52.8" y="756.3" width="36.65" height="0.70" fill="#e8e1a3"/>
<rect x="52.8" y="757.0" width="36.65" height="2.25" fill="#f0c868"/>
<rect x="52.8" y="759.2" width="36.65" height="8.55" fill="#f5b040"/>
<rect x="52.8" y="759.2" width="36.65" height="1.00" fill="#f5b44c"/>
<rect x="52.8" y="760.2" width="36.65" height="1.50" fill="#f5b44a"/>
<rect x="52.8" y="764.2" width="36.65" height="1.00" fill="#f5b650"/>
<rect x="52.8" y="766.7" width="36.65" height="1.00" fill="#f5b348"/>
<rect x="52.8" y="767.7" width="36.65" height="20.85" fill="#f58a28"/>
<rect x="52.8" y="769.2" width="36.65" height="2.00" fill="#f5943a"/>
<rect x="52.8" y="771.2" width="36.65" height="1.50" fill="#eb8426"/>
<rect x="52.8" y="774.7" width="36.65" height="1.50" fill="#f58e30"/>
<rect x="52.8" y="776.2" width="36.65" height="2.00" fill="#f59136"/>
<rect x="52.8" y="778.2" width="36.65" height="1.50" fill="#f59338"/>
<rect x="52.8" y="779.7" width="36.65" height="1.50" fill="#f59135"/>
<rect x="52.8" y="781.2" width="36.65" height="1.00" fill="#f59136"/>
<rect x="52.8" y="782.2" width="36.65" height="1.00" fill="#f59338"/>
<rect x="52.8" y="783.2" width="36.65" height="2.00" fill="#f59033"/>
<rect x="52.8" y="785.2" width="36.65" height="1.50" fill="#f59238"/>
<rect x="52.8" y="786.7" width="36.65" height="1.50" fill="#f59135"/>
<rect x="52.8" y="788.5" width="36.65" height="6.55" fill="#f8a838"/>
<rect x="52.8" y="788.5" width="36.65" height="1.50" fill="#eea135"/>
<rect x="52.8" y="792.0" width="36.65" height="1.50" fill="#f8ac42"/>
<rect x="52.8" y="793.5" width="36.65" height="1.00" fill="#f8ac42"/>
<rect x="52.8" y="795.0" width="36.65" height="32.05" fill="#f5a030"/>
<rect x="52.8" y="795.0" width="36.65" height="1.00" fill="#f5a842"/>
<rect x="52.8" y="797.0" width="36.65" height="1.50" fill="#f5a53d"/>
<rect x="52.8" y="798.5" width="36.65" height="1.00" fill="#f5a337"/>
<rect x="52.8" y="799.5" width="36.65" height="2.00" fill="#f5a842"/>
<rect x="52.8" y="801.5" width="36.65" height="2.00" fill="#f5a740"/>
<rect x="52.8" y="804.5" width="36.65" height="1.00" fill="#e9982d"/>
<rect x="52.8" y="805.5" width="36.65" height="2.00" fill="#f5a338"/>
<rect x="52.8" y="807.5" width="36.65" height="2.00" fill="#f5a53b"/>
<rect x="52.8" y="810.5" width="36.65" height="1.00" fill="#f5a63d"/>
<rect x="52.8" y="811.5" width="36.65" height="1.00" fill="#e9982d"/>
<rect x="52.8" y="813.5" width="36.65" height="1.00" fill="#f5a53b"/>
<rect x="52.8" y="816.0" width="36.65" height="1.50" fill="#f5a63d"/>
<rect x="52.8" y="817.5" width="36.65" height="1.00" fill="#f5a740"/>
<rect x="52.8" y="818.5" width="36.65" height="1.50" fill="#f5a73f"/>
<rect x="52.8" y="820.0" width="36.65" height="2.00" fill="#f5a336"/>
<rect x="52.8" y="824.0" width="36.65" height="2.00" fill="#ed9a2e"/>
<rect x="52.8" y="827.0" width="36.65" height="4.55" fill="#f5b040"/>
<rect x="52.8" y="827.0" width="36.65" height="1.00" fill="#f5b54d"/>
<rect x="52.8" y="828.0" width="36.65" height="1.00" fill="#f5b246"/>
<rect x="52.8" y="830.0" width="36.65" height="1.50" fill="#f5b247"/>
<rect x="52.8" y="831.5" width="36.65" height="4.55" fill="#f59028"/>
<rect x="52.8" y="832.5" width="36.65" height="1.50" fill="#f59531"/>
<rect x="52.8" y="836.0" width="36.65" height="4.85" fill="#f5a838"/>
<rect x="52.8" y="836.0" width="36.65" height="1.00" fill="#f5ae46"/>
<rect x="52.8" y="838.0" width="36.65" height="1.50" fill="#eaa035"/>
<rect x="52.8" y="840.8" width="36.65" height="6.95" fill="#f59028"/>
<rect x="52.8" y="840.8" width="36.65" height="2.00" fill="#e98926"/>
<rect x="52.8" y="843.8" width="36.65" height="2.00" fill="#f5993a"/>
<rect x="52.8" y="847.7" width="36.65" height="5.35" fill="#f08028"/>
<rect x="52.8" y="853.0" width="36.65" height="29.35" fill="#f5b040"/>
<rect x="52.8" y="853.0" width="36.65" height="1.00" fill="#f5b349"/>
<rect x="52.8" y="854.0" width="36.65" height="1.50" fill="#f5b64f"/>
<rect x="52.8" y="855.5" width="36.65" height="1.00" fill="#f5b54c"/>
<rect x="52.8" y="859.0" width="36.65" height="1.00" fill="#f5b348"/>
<rect x="52.8" y="860.0" width="36.65" height="1.50" fill="#eba93d"/>
<rect x="52.8" y="863.5" width="36.65" height="1.00" fill="#f5b54e"/>
<rect x="52.8" y="864.5" width="36.65" height="1.00" fill="#f5b64f"/>
<rect x="52.8" y="865.5" width="36.65" height="2.00" fill="#f5b348"/>
<rect x="52.8" y="868.5" width="36.65" height="1.00" fill="#f5b650"/>
<rect x="52.8" y="869.5" width="36.65" height="1.00" fill="#f5b44a"/>
<rect x="52.8" y="873.0" width="36.65" height="2.00" fill="#f5b54c"/>
<rect x="52.8" y="875.0" width="36.65" height="1.00" fill="#f5b349"/>
<rect x="52.8" y="879.5" width="36.65" height="1.50" fill="#eba93d"/>
<rect x="52.8" y="881.0" width="36.65" height="1.30" fill="#e9a73c"/>
<rect x="52.8" y="882.3" width="36.65" height="7.35" fill="#f0c060"/>
<rect x="52.8" y="884.3" width="36.65" height="2.00" fill="#e4b65b"/>
<rect x="89.4" y="600.8" width="36.75" height="5.75" fill="#f0a040"/>
<rect x="89.4" y="600.8" width="36.75" height="1.00" fill="#e79a3d"/>
<rect x="89.4" y="601.8" width="36.75" height="1.00" fill="#f1a850"/>
<rect x="89.4" y="602.8" width="36.75" height="1.00" fill="#e6993d"/>
<rect x="89.4" y="603.8" width="36.75" height="1.50" fill="#e5983d"/>
<rect x="89.4" y="606.5" width="36.75" height="2.35" fill="#c8e4e0"/>
<rect x="89.4" y="608.8" width="36.75" height="16.95" fill="#78b8ec"/>
<rect x="89.4" y="608.8" width="36.75" height="1.00" fill="#80bced"/>
<rect x="89.4" y="609.8" width="36.75" height="2.00" fill="#80bced"/>
<rect x="89.4" y="613.3" width="36.75" height="2.00" fill="#82bded"/>
<rect x="89.4" y="617.3" width="36.75" height="1.50" fill="#73b1e3"/>
<rect x="89.4" y="618.8" width="36.75" height="1.00" fill="#80bced"/>
<rect x="89.4" y="621.8" width="36.75" height="1.00" fill="#7dbaec"/>
<rect x="89.4" y="622.8" width="36.75" height="1.50" fill="#73b0e2"/>
<rect x="89.4" y="624.3" width="36.75" height="1.00" fill="#73b0e2"/>
<rect x="89.4" y="625.7" width="36.75" height="3.15" fill="#d0e8d8"/>
<rect x="89.4" y="626.7" width="36.75" height="1.50" fill="#d4eadb"/>
<rect x="89.4" y="628.2" width="36.75" height="0.60" fill="#d3e9db"/>
<rect x="89.4" y="628.8" width="36.75" height="12.25" fill="#a0d0f0"/>
<rect x="89.4" y="628.8" width="36.75" height="1.50" fill="#a3d1f0"/>
<rect x="89.4" y="631.3" width="36.75" height="1.00" fill="#a7d3f1"/>
<rect x="89.4" y="634.3" width="36.75" height="1.50" fill="#a3d1f0"/>
<rect x="89.4" y="635.8" width="36.75" height="2.00" fill="#a5d2f0"/>
<rect x="89.4" y="641.0" width="36.75" height="2.45" fill="#3a78c8"/>
<rect x="89.4" y="643.4" width="36.75" height="3.85" fill="#70b0e8"/>
<rect x="89.4" y="643.4" width="36.75" height="1.50" fill="#78b4e9"/>
<rect x="89.4" y="644.9" width="36.75" height="1.50" fill="#6aa8dd"/>
<rect x="89.4" y="646.4" width="36.75" height="0.80" fill="#77b4e9"/>
<rect x="89.4" y="647.2" width="36.75" height="10.85" fill="#b0e0f0"/>
<rect x="89.4" y="647.2" width="36.75" height="2.00" fill="#b6e2f1"/>
<rect x="89.4" y="651.2" width="36.75" height="1.50" fill="#a9d8e7"/>
<rect x="89.4" y="656.2" width="36.75" height="1.50" fill="#b6e2f1"/>
<rect x="89.4" y="658.0" width="36.75" height="4.65" fill="#f05028"/>
<rect x="89.4" y="658.0" width="36.75" height="1.50" fill="#f05831"/>
<rect x="89.4" y="660.5" width="36.75" height="2.00" fill="#f05933"/>
<rect x="89.4" y="662.6" width="36.75" height="5.45" fill="#f5b040"/>
<rect x="89.4" y="663.6" width="36.75" height="1.50" fill="#f5b650"/>
<rect x="89.4" y="665.1" width="36.75" height="1.00" fill="#e9a73c"/>
<rect x="89.4" y="666.1" width="36.75" height="1.90" fill="#f5b44a"/>
<rect x="89.4" y="668.0" width="36.75" height="6.25" fill="#f05a28"/>
<rect x="89.4" y="669.5" width="36.75" height="1.00" fill="#e65626"/>
<rect x="89.4" y="670.5" width="36.75" height="1.50" fill="#f16537"/>
<rect x="89.4" y="672.0" width="36.75" height="2.00" fill="#f1683a"/>
<rect x="89.4" y="674.2" width="36.75" height="9.85" fill="#ecc878"/>
<rect x="89.4" y="676.2" width="36.75" height="1.50" fill="#e1bf72"/>
<rect x="89.4" y="678.7" width="36.75" height="1.50" fill="#e0be72"/>
<rect x="89.4" y="680.2" width="36.75" height="1.50" fill="#edcc83"/>
<rect x="89.4" y="684.0" width="36.75" height="21.45" fill="#f5b848"/>
<rect x="89.4" y="684.0" width="36.75" height="1.00" fill="#f5be57"/>
<rect x="89.4" y="686.5" width="36.75" height="1.00" fill="#e8ae44"/>
<rect x="89.4" y="687.5" width="36.75" height="1.50" fill="#ebb045"/>
<rect x="89.4" y="691.5" width="36.75" height="1.00" fill="#ebb145"/>
<rect x="89.4" y="693.5" width="36.75" height="2.00" fill="#eaaf44"/>
<rect x="89.4" y="698.5" width="36.75" height="2.00" fill="#f5bd57"/>
<rect x="89.4" y="700.5" width="36.75" height="1.00" fill="#f5ba4f"/>
<rect x="89.4" y="701.5" width="36.75" height="2.00" fill="#f5bc52"/>
<rect x="89.4" y="705.4" width="36.75" height="27.65" fill="#f5a835"/>
<rect x="89.4" y="705.4" width="36.75" height="1.50" fill="#f5ac3f"/>
<rect x="89.4" y="708.4" width="36.75" height="2.00" fill="#f5ab3c"/>
<rect x="89.4" y="710.4" width="36.75" height="1.00" fill="#eaa032"/>
<rect x="89.4" y="711.4" width="36.75" height="2.00" fill="#f5ae44"/>
<rect x="89.4" y="715.4" width="36.75" height="2.00" fill="#f5ad41"/>
<rect x="89.4" y="717.4" width="36.75" height="1.00" fill="#f5ae44"/>
<rect x="89.4" y="720.4" width="36.75" height="1.00" fill="#f5ad42"/>
<rect x="89.4" y="721.4" width="36.75" height="2.00" fill="#f5ad41"/>
<rect x="89.4" y="723.4" width="36.75" height="2.00" fill="#f5ab3e"/>
<rect x="89.4" y="725.4" width="36.75" height="2.00" fill="#f5ab3d"/>
<rect x="89.4" y="727.4" width="36.75" height="1.00" fill="#e9a032"/>
<rect x="89.4" y="728.4" width="36.75" height="1.00" fill="#f5ab3c"/>
<rect x="89.4" y="731.9" width="36.75" height="1.10" fill="#e9a032"/>
<rect x="89.4" y="733.0" width="36.75" height="12.45" fill="#f0c860"/>
<rect x="89.4" y="733.0" width="36.75" height="2.00" fill="#f0ca67"/>
<rect x="89.4" y="736.5" width="36.75" height="1.50" fill="#f0cb69"/>
<rect x="89.4" y="738.0" width="36.75" height="2.00" fill="#f1cc6c"/>
<rect x="89.4" y="740.0" width="36.75" height="2.00" fill="#e7c05c"/>
<rect x="89.4" y="742.0" width="36.75" height="2.00" fill="#e6bf5c"/>
<rect x="89.4" y="745.4" width="36.75" height="7.65" fill="#f5b040"/>
<rect x="89.4" y="745.4" width="36.75" height="1.00" fill="#f5b54d"/>
<rect x="89.4" y="746.4" width="36.75" height="1.00" fill="#f5b449"/>
<rect x="89.4" y="748.4" width="36.75" height="2.00" fill="#f5b650"/>
<rect x="89.4" y="750.4" width="36.75" height="1.50" fill="#f5b54d"/>
<rect x="89.4" y="753.0" width="36.75" height="4.75" fill="#f08a30"/>
<rect x="89.4" y="755.0" width="36.75" height="1.00" fill="#f08e37"/>
<rect x="89.4" y="757.7" width="36.75" height="10.05" fill="#f5b040"/>
<rect x="89.4" y="759.7" width="36.75" height="1.50" fill="#f5b347"/>
<rect x="89.4" y="763.2" width="36.75" height="2.00" fill="#edaa3d"/>
<rect x="89.4" y="765.2" width="36.75" height="1.50" fill="#eaa83d"/>
<rect x="89.4" y="766.7" width="36.75" height="1.00" fill="#f5b650"/>
<rect x="89.4" y="767.7" width="36.75" height="8.35" fill="#e0e0b0"/>
<rect x="89.4" y="767.7" width="36.75" height="1.00" fill="#e1e1b3"/>
<rect x="89.4" y="774.2" width="36.75" height="1.00" fill="#e2e2b7"/>
<rect x="89.4" y="776.0" width="36.75" height="9.45" fill="#d0e8d0"/>
<rect x="89.4" y="776.0" width="36.75" height="1.00" fill="#d3e9d3"/>
<rect x="89.4" y="778.0" width="36.75" height="1.00" fill="#d3e9d3"/>
<rect x="89.4" y="779.0" width="36.75" height="1.50" fill="#d4ead4"/>
<rect x="89.4" y="782.0" width="36.75" height="1.00" fill="#c7dec7"/>
<rect x="89.4" y="783.0" width="36.75" height="1.00" fill="#c9e1c9"/>
<rect x="89.4" y="785.4" width="36.75" height="4.65" fill="#ecc878"/>
<rect x="89.4" y="785.4" width="36.75" height="1.50" fill="#e4c174"/>
<rect x="89.4" y="788.9" width="36.75" height="1.00" fill="#ecca7e"/>
<rect x="89.4" y="790.0" width="36.75" height="24.65" fill="#f0c058"/>
<rect x="89.4" y="792.5" width="36.75" height="1.00" fill="#e4b653"/>
<rect x="89.4" y="793.5" width="36.75" height="1.50" fill="#f0c25f"/>
<rect x="89.4" y="799.0" width="36.75" height="1.50" fill="#e4b653"/>
<rect x="89.4" y="800.5" width="36.75" height="1.50" fill="#f1c463"/>
<rect x="89.4" y="802.0" width="36.75" height="1.00" fill="#f1c565"/>
<rect x="89.4" y="803.0" width="36.75" height="1.00" fill="#f0c360"/>
<rect x="89.4" y="806.0" width="36.75" height="1.50" fill="#e6b854"/>
<rect x="89.4" y="807.5" width="36.75" height="1.50" fill="#f1c567"/>
<rect x="89.4" y="809.0" width="36.75" height="2.00" fill="#e6b854"/>
<rect x="89.4" y="811.0" width="36.75" height="1.50" fill="#f0c361"/>
<rect x="89.4" y="813.5" width="36.75" height="1.00" fill="#f1c463"/>
<rect x="89.4" y="814.6" width="36.75" height="8.45" fill="#f5a838"/>
<rect x="89.4" y="814.6" width="36.75" height="1.50" fill="#f5ab3f"/>
<rect x="89.4" y="820.1" width="36.75" height="1.50" fill="#f5ad43"/>
<rect x="89.4" y="821.6" width="36.75" height="1.40" fill="#f5ae46"/>
<rect x="89.4" y="823.0" width="36.75" height="7.05" fill="#f0c868"/>
<rect x="89.4" y="827.0" width="36.75" height="2.00" fill="#e6c063"/>
<rect x="89.4" y="830.0" width="36.75" height="6.05" fill="#d8e0b8"/>
<rect x="89.4" y="830.0" width="36.75" height="2.00" fill="#dae1bb"/>
<rect x="89.4" y="832.0" width="36.75" height="2.00" fill="#dae2bd"/>
<rect x="89.4" y="834.0" width="36.75" height="1.50" fill="#ced6b0"/>
<rect x="89.4" y="836.0" width="36.75" height="11.05" fill="#e8d090"/>
<rect x="89.4" y="836.0" width="36.75" height="2.00" fill="#e0c98b"/>
<rect x="89.4" y="841.0" width="36.75" height="2.00" fill="#e9d295"/>
<rect x="89.4" y="847.0" width="36.75" height="2.05" fill="#f08a30"/>
<rect x="89.4" y="849.0" width="36.75" height="7.05" fill="#e8d890"/>
<rect x="89.4" y="850.5" width="36.75" height="1.50" fill="#e0d08b"/>
<rect x="89.4" y="856.0" width="36.75" height="24.85" fill="#f59a30"/>
<rect x="89.4" y="856.0" width="36.75" height="1.50" fill="#f5a13f"/>
<rect x="89.4" y="862.0" width="36.75" height="2.00" fill="#eb942e"/>
<rect x="89.4" y="867.0" width="36.75" height="1.00" fill="#f59f3b"/>
<rect x="89.4" y="874.0" width="36.75" height="2.00" fill="#f5a241"/>
<rect x="89.4" y="876.0" width="36.75" height="1.00" fill="#f59e39"/>
<rect x="89.4" y="877.0" width="36.75" height="2.00" fill="#f59d37"/>
<rect x="89.4" y="879.0" width="36.75" height="1.00" fill="#eb942e"/>
<rect x="89.4" y="880.8" width="36.75" height="8.85" fill="#f58a28"/>
<rect x="89.4" y="882.8" width="36.75" height="1.50" fill="#f59236"/>
<rect x="89.4" y="884.3" width="36.75" height="1.00" fill="#ed8526"/>
<rect x="89.4" y="885.3" width="36.75" height="1.50" fill="#f58f32"/>
<rect x="89.4" y="886.8" width="36.75" height="1.50" fill="#f5943a"/>
<rect x="89.4" y="888.3" width="36.75" height="1.30" fill="#e88326"/>
<rect x="126.1" y="600.8" width="36.85" height="3.25" fill="#d8ecd8"/>
<rect x="126.1" y="600.8" width="36.85" height="1.50" fill="#dbeddb"/>
<rect x="126.1" y="602.3" width="36.85" height="1.70" fill="#daedda"/>
<rect x="126.1" y="604.0" width="36.85" height="2.55" fill="#90c8e8"/>
<rect x="126.1" y="606.5" width="36.85" height="2.35" fill="#a8e0f0"/>
<rect x="126.1" y="608.8" width="36.85" height="1.25" fill="#90c8e8"/>
<rect x="126.1" y="610.0" width="36.85" height="15.75" fill="#a8e0f0"/>
<rect x="126.1" y="613.5" width="36.85" height="2.00" fill="#a2d8e7"/>
<rect x="126.1" y="615.5" width="36.85" height="2.00" fill="#ace1f0"/>
<rect x="126.1" y="617.5" width="36.85" height="1.50" fill="#a1d7e6"/>
<rect x="126.1" y="619.0" width="36.85" height="1.00" fill="#9fd4e4"/>
<rect x="126.1" y="621.0" width="36.85" height="1.00" fill="#abe1f0"/>
<rect x="126.1" y="622.0" width="36.85" height="1.50" fill="#afe2f1"/>
<rect x="126.1" y="625.7" width="36.85" height="1.35" fill="#90c8e8"/>
<rect x="126.1" y="627.0" width="36.85" height="1.05" fill="#b8e4e8"/>
<rect x="126.1" y="628.0" width="36.85" height="1.55" fill="#90c8e8"/>
<rect x="126.1" y="629.5" width="36.85" height="8.55" fill="#a8e0f0"/>
<rect x="126.1" y="631.5" width="36.85" height="1.00" fill="#a1d7e7"/>
<rect x="126.1" y="638.0" width="36.85" height="1.55" fill="#90c8e8"/>
<rect x="126.1" y="639.5" width="36.85" height="3.15" fill="#e0e0b0"/>
<rect x="126.1" y="639.5" width="36.85" height="2.00" fill="#d4d4a7"/>
<rect x="126.1" y="642.6" width="36.85" height="4.65" fill="#90c8e8"/>
<rect x="126.1" y="644.1" width="36.85" height="1.50" fill="#94cae8"/>
<rect x="126.1" y="647.2" width="36.85" height="3.85" fill="#f0a848"/>
<rect x="126.1" y="647.2" width="36.85" height="1.00" fill="#f1af57"/>
<rect x="126.1" y="648.2" width="36.85" height="2.00" fill="#f0ab4f"/>
<rect x="126.1" y="650.2" width="36.85" height="0.80" fill="#e4a044"/>
<rect x="126.1" y="651.0" width="36.85" height="5.05" fill="#b0e0e8"/>
<rect x="126.1" y="651.0" width="36.85" height="1.50" fill="#b5e2e9"/>
<rect x="126.1" y="656.0" width="36.85" height="2.05" fill="#d0e4c8"/>
<rect x="126.1" y="658.0" width="36.85" height="5.45" fill="#b0e0e8"/>
<rect x="126.1" y="658.0" width="36.85" height="1.50" fill="#b6e2e9"/>
<rect x="126.1" y="663.4" width="36.85" height="3.15" fill="#f0a848"/>
<rect x="126.1" y="664.9" width="36.85" height="1.50" fill="#f0ac51"/>
<rect x="126.1" y="666.5" width="36.85" height="8.55" fill="#c0e8e0"/>
<rect x="126.1" y="666.5" width="36.85" height="2.00" fill="#b8ded6"/>
<rect x="126.1" y="668.5" width="36.85" height="1.50" fill="#c5e9e2"/>
<rect x="126.1" y="670.0" width="36.85" height="1.50" fill="#c3e9e1"/>
<rect x="126.1" y="673.5" width="36.85" height="1.50" fill="#b9dfd8"/>
<rect x="126.1" y="675.0" width="36.85" height="4.55" fill="#e8d8a0"/>
<rect x="126.1" y="677.0" width="36.85" height="1.00" fill="#e9daa7"/>
<rect x="126.1" y="679.5" width="36.85" height="4.55" fill="#ecc878"/>
<rect x="126.1" y="679.5" width="36.85" height="2.00" fill="#e2bf72"/>
<rect x="126.1" y="684.0" width="36.85" height="2.05" fill="#f0b850"/>
<rect x="126.1" y="686.0" width="36.85" height="19.45" fill="#e8c878"/>
<rect x="126.1" y="686.0" width="36.85" height="1.50" fill="#debf72"/>
<rect x="126.1" y="687.5" width="36.85" height="1.00" fill="#e9cc83"/>
<rect x="126.1" y="689.5" width="36.85" height="2.00" fill="#debf73"/>
<rect x="126.1" y="693.0" width="36.85" height="2.00" fill="#e9cc81"/>
<rect x="126.1" y="695.0" width="36.85" height="2.00" fill="#e0c173"/>
<rect x="126.1" y="697.0" width="36.85" height="1.00" fill="#e9cc82"/>
<rect x="126.1" y="699.5" width="36.85" height="2.00" fill="#e9cc82"/>
<rect x="126.1" y="703.5" width="36.85" height="1.50" fill="#e8ca7d"/>
<rect x="126.1" y="705.4" width="36.85" height="4.65" fill="#d8e0b0"/>
<rect x="126.1" y="705.4" width="36.85" height="1.50" fill="#dae2b5"/>
<rect x="126.1" y="708.4" width="36.85" height="1.00" fill="#cdd4a7"/>
<rect x="126.1" y="709.4" width="36.85" height="0.60" fill="#cfd7a9"/>
<rect x="126.1" y="710.0" width="36.85" height="24.65" fill="#e0d090"/>
<rect x="126.1" y="710.0" width="36.85" height="1.50" fill="#e2d399"/>
<rect x="126.1" y="713.5" width="36.85" height="1.50" fill="#e2d397"/>
<rect x="126.1" y="715.0" width="36.85" height="1.50" fill="#d7c88a"/>
<rect x="126.1" y="721.5" width="36.85" height="1.50" fill="#e1d295"/>
<rect x="126.1" y="723.0" width="36.85" height="1.50" fill="#d5c689"/>
<rect x="126.1" y="726.0" width="36.85" height="2.00" fill="#e1d296"/>
<rect x="126.1" y="729.0" width="36.85" height="1.50" fill="#d6c78a"/>
<rect x="126.1" y="731.5" width="36.85" height="2.00" fill="#d6c78a"/>
<rect x="126.1" y="734.6" width="36.85" height="1.45" fill="#d0e8c8"/>
<rect x="126.1" y="736.0" width="36.85" height="14.05" fill="#e8c878"/>
<rect x="126.1" y="737.5" width="36.85" height="2.00" fill="#ddbf72"/>
<rect x="126.1" y="739.5" width="36.85" height="2.00" fill="#e9ca7e"/>
<rect x="126.1" y="741.5" width="36.85" height="1.50" fill="#e9cc82"/>
<rect x="126.1" y="743.0" width="36.85" height="1.50" fill="#dcbe72"/>
<rect x="126.1" y="744.5" width="36.85" height="2.00" fill="#e9cc82"/>
<rect x="126.1" y="746.5" width="36.85" height="2.00" fill="#e9cc83"/>
<rect x="126.1" y="748.5" width="36.85" height="1.00" fill="#ddbe72"/>
<rect x="126.1" y="750.0" width="36.85" height="2.05" fill="#f0b860"/>
<rect x="126.1" y="752.0" width="36.85" height="15.05" fill="#e8c878"/>
<rect x="126.1" y="752.0" width="36.85" height="1.00" fill="#dfc173"/>
<rect x="126.1" y="753.0" width="36.85" height="2.00" fill="#e9cc83"/>
<rect x="126.1" y="755.0" width="36.85" height="1.50" fill="#e9cb80"/>
<rect x="126.1" y="756.5" width="36.85" height="1.50" fill="#e9cb80"/>
<rect x="126.1" y="758.0" width="36.85" height="1.00" fill="#e9cc82"/>
<rect x="126.1" y="759.0" width="36.85" height="1.00" fill="#dcbe72"/>
<rect x="126.1" y="762.0" width="36.85" height="2.00" fill="#e9cb7f"/>
<rect x="126.1" y="767.0" width="36.85" height="4.55" fill="#c8e8d8"/>
<rect x="126.1" y="767.0" width="36.85" height="2.00" fill="#c0decf"/>
<rect x="126.1" y="771.5" width="36.85" height="18.55" fill="#e8d088"/>
<rect x="126.1" y="771.5" width="36.85" height="1.00" fill="#e8d18c"/>
<rect x="126.1" y="775.5" width="36.85" height="1.50" fill="#e9d390"/>
<rect x="126.1" y="780.5" width="36.85" height="2.00" fill="#e9d492"/>
<rect x="126.1" y="787.0" width="36.85" height="2.00" fill="#e9d390"/>
<rect x="126.1" y="789.0" width="36.85" height="1.00" fill="#e9d28e"/>
<rect x="126.1" y="790.0" width="36.85" height="23.05" fill="#e8c878"/>
<rect x="126.1" y="793.5" width="36.85" height="1.50" fill="#e9ca7f"/>
<rect x="126.1" y="802.0" width="36.85" height="1.00" fill="#e8ca7d"/>
<rect x="126.1" y="803.0" width="36.85" height="1.00" fill="#e8ca7d"/>
<rect x="126.1" y="804.0" width="36.85" height="1.00" fill="#dfc073"/>
<rect x="126.1" y="805.0" width="36.85" height="1.50" fill="#e9cc81"/>
<rect x="126.1" y="806.5" width="36.85" height="1.00" fill="#e9cb81"/>
<rect x="126.1" y="807.5" width="36.85" height="1.50" fill="#ddbf72"/>
<rect x="126.1" y="813.0" width="36.85" height="4.75" fill="#d8e0b0"/>
<rect x="126.1" y="815.0" width="36.85" height="1.50" fill="#dae1b4"/>
<rect x="126.1" y="816.5" width="36.85" height="1.20" fill="#dbe2b6"/>
<rect x="126.1" y="817.7" width="36.85" height="23.15" fill="#f0b858"/>
<rect x="126.1" y="817.7" width="36.85" height="1.00" fill="#f0ba5e"/>
<rect x="126.1" y="818.7" width="36.85" height="2.00" fill="#f0ba5e"/>
<rect x="126.1" y="820.7" width="36.85" height="1.00" fill="#e5af54"/>
<rect x="126.1" y="821.7" width="36.85" height="1.50" fill="#e8b255"/>
<rect x="126.1" y="823.2" width="36.85" height="1.00" fill="#f1be67"/>
<rect x="126.1" y="824.2" width="36.85" height="1.00" fill="#f0ba5d"/>
<rect x="126.1" y="825.2" width="36.85" height="2.00" fill="#f1bd65"/>
<rect x="126.1" y="827.2" width="36.85" height="1.00" fill="#f0bc62"/>
<rect x="126.1" y="828.2" width="36.85" height="1.50" fill="#f0bb5f"/>
<rect x="126.1" y="829.7" width="36.85" height="1.00" fill="#f0ba5e"/>
<rect x="126.1" y="834.2" width="36.85" height="1.50" fill="#f0bb5f"/>
<rect x="126.1" y="835.7" width="36.85" height="1.00" fill="#f0ba5e"/>
<rect x="126.1" y="836.7" width="36.85" height="1.00" fill="#f0ba5e"/>
<rect x="126.1" y="837.7" width="36.85" height="1.50" fill="#f0bb5f"/>
<rect x="126.1" y="839.2" width="36.85" height="1.50" fill="#f1be66"/>
<rect x="126.1" y="840.8" width="36.85" height="6.25" fill="#d8e0b8"/>
<rect x="126.1" y="843.8" width="36.85" height="2.00" fill="#dae2bd"/>
<rect x="126.1" y="847.0" width="36.85" height="4.55" fill="#90d0f0"/>
<rect x="126.1" y="847.0" width="36.85" height="1.50" fill="#94d1f0"/>
<rect x="126.1" y="848.5" width="36.85" height="1.50" fill="#95d2f0"/>
<rect x="126.1" y="850.0" width="36.85" height="1.00" fill="#99d3f1"/>
<rect x="126.1" y="851.5" width="36.85" height="5.55" fill="#f0b048"/>
<rect x="126.1" y="851.5" width="36.85" height="1.50" fill="#f1b655"/>
<rect x="126.1" y="853.0" width="36.85" height="1.50" fill="#e7a945"/>
<rect x="126.1" y="857.0" width="36.85" height="32.65" fill="#e0d8a0"/>
<rect x="126.1" y="857.0" width="36.85" height="1.00" fill="#d8d19a"/>
<rect x="126.1" y="859.0" width="36.85" height="2.00" fill="#e1daa5"/>
<rect x="126.1" y="861.0" width="36.85" height="1.50" fill="#d7cf99"/>
<rect x="126.1" y="862.5" width="36.85" height="2.00" fill="#e2dba7"/>
<rect x="126.1" y="868.5" width="36.85" height="1.00" fill="#d8d09a"/>
<rect x="126.1" y="869.5" width="36.85" height="1.50" fill="#e1daa5"/>
<rect x="126.1" y="872.0" width="36.85" height="1.00" fill="#e2dba8"/>
<rect x="126.1" y="874.5" width="36.85" height="2.00" fill="#e2dba7"/>
<rect x="126.1" y="876.5" width="36.85" height="1.50" fill="#d7cf99"/>
<rect x="126.1" y="878.0" width="36.85" height="2.00" fill="#e1d9a3"/>
<rect x="126.1" y="880.0" width="36.85" height="1.00" fill="#e1d9a3"/>
<rect x="126.1" y="881.0" width="36.85" height="1.00" fill="#e1d9a3"/>
<rect x="126.1" y="882.0" width="36.85" height="2.00" fill="#e2daa6"/>
<rect x="126.1" y="885.5" width="36.85" height="1.00" fill="#d6ce98"/>
<rect x="126.1" y="888.5" width="36.85" height="1.10" fill="#d8d09a"/>
<rect x="162.9" y="600.8" width="37.05" height="6.25" fill="#a0d8f0"/>
<rect x="162.9" y="600.8" width="37.05" height="1.00" fill="#a8dbf1"/>
<rect x="162.9" y="601.8" width="37.05" height="1.00" fill="#98cee5"/>
<rect x="162.9" y="602.8" width="37.05" height="2.00" fill="#a6daf1"/>
<rect x="162.9" y="604.8" width="37.05" height="2.00" fill="#98cee5"/>
<rect x="162.9" y="607.0" width="37.05" height="18.75" fill="#d8e0b8"/>
<rect x="162.9" y="607.0" width="37.05" height="1.50" fill="#d0d8b1"/>
<rect x="162.9" y="610.5" width="37.05" height="2.00" fill="#dae1bc"/>
<rect x="162.9" y="616.5" width="37.05" height="1.50" fill="#d9e1ba"/>
<rect x="162.9" y="619.5" width="37.05" height="1.00" fill="#cdd5af"/>
<rect x="162.9" y="620.5" width="37.05" height="2.00" fill="#dbe2be"/>
<rect x="162.9" y="624.0" width="37.05" height="1.70" fill="#dae1bc"/>
<rect x="162.9" y="625.7" width="37.05" height="3.15" fill="#c8e8d8"/>
<rect x="162.9" y="625.7" width="37.05" height="1.50" fill="#cbe9da"/>
<rect x="162.9" y="628.8" width="37.05" height="10.75" fill="#d0e0c0"/>
<rect x="162.9" y="628.8" width="37.05" height="1.00" fill="#c9d8b9"/>
<rect x="162.9" y="632.8" width="37.05" height="2.00" fill="#c6d6b7"/>
<rect x="162.9" y="634.8" width="37.05" height="2.00" fill="#c9d8b9"/>
<rect x="162.9" y="639.5" width="37.05" height="3.15" fill="#e0c890"/>
<rect x="162.9" y="639.5" width="37.05" height="1.00" fill="#e1cb96"/>
<rect x="162.9" y="640.5" width="37.05" height="1.50" fill="#e1ca94"/>
<rect x="162.9" y="642.0" width="37.05" height="0.60" fill="#d5be89"/>
<rect x="162.9" y="642.6" width="37.05" height="3.15" fill="#a0d0e8"/>
<rect x="162.9" y="642.6" width="37.05" height="1.00" fill="#a8d4ea"/>
<rect x="162.9" y="643.6" width="37.05" height="2.00" fill="#a4d2e9"/>
<rect x="162.9" y="645.7" width="37.05" height="6.15" fill="#d0e8d0"/>
<rect x="162.9" y="648.2" width="37.05" height="1.00" fill="#d2e9d2"/>
<rect x="162.9" y="649.2" width="37.05" height="2.00" fill="#d3e9d3"/>
<rect x="162.9" y="651.2" width="37.05" height="0.60" fill="#d3e9d3"/>
<rect x="162.9" y="651.8" width="37.05" height="10.85" fill="#a0d8ec"/>
<rect x="162.9" y="651.8" width="37.05" height="2.00" fill="#a5daed"/>
<rect x="162.9" y="658.3" width="37.05" height="2.00" fill="#a8dbed"/>
<rect x="162.9" y="661.8" width="37.05" height="0.80" fill="#a3d9ec"/>
<rect x="162.9" y="662.6" width="37.05" height="3.95" fill="#e0e0b0"/>
<rect x="162.9" y="666.5" width="37.05" height="8.55" fill="#a8dcf0"/>
<rect x="162.9" y="666.5" width="37.05" height="1.50" fill="#abddf0"/>
<rect x="162.9" y="669.5" width="37.05" height="1.50" fill="#a2d4e7"/>
<rect x="162.9" y="671.0" width="37.05" height="2.00" fill="#a0d2e5"/>
<rect x="162.9" y="673.0" width="37.05" height="1.50" fill="#afdef1"/>
<rect x="162.9" y="675.0" width="37.05" height="12.05" fill="#e0d8a0"/>
<rect x="162.9" y="676.5" width="37.05" height="2.00" fill="#e1d9a4"/>
<rect x="162.9" y="679.5" width="37.05" height="2.00" fill="#e1d9a3"/>
<rect x="162.9" y="681.5" width="37.05" height="1.50" fill="#e1daa5"/>
<rect x="162.9" y="684.5" width="37.05" height="1.50" fill="#e0d9a2"/>
<rect x="162.9" y="687.0" width="37.05" height="64.55" fill="#b2e9f0"/>
<rect x="162.9" y="688.0" width="37.05" height="1.00" fill="#b4e9f0"/>
<rect x="162.9" y="692.0" width="37.05" height="2.00" fill="#b8eaf1"/>
<rect x="162.9" y="694.0" width="37.05" height="2.00" fill="#b8eaf1"/>
<rect x="162.9" y="696.0" width="37.05" height="1.50" fill="#b6eaf0"/>
<rect x="162.9" y="697.5" width="37.05" height="2.00" fill="#a9dee5"/>
<rect x="162.9" y="704.5" width="37.05" height="1.00" fill="#ace1e8"/>
<rect x="162.9" y="705.5" width="37.05" height="1.00" fill="#b4e9f0"/>
<rect x="162.9" y="706.5" width="37.05" height="1.00" fill="#a9dee4"/>
<rect x="162.9" y="708.5" width="37.05" height="1.50" fill="#abe0e7"/>
<rect x="162.9" y="711.5" width="37.05" height="1.50" fill="#b4e9f0"/>
<rect x="162.9" y="713.0" width="37.05" height="2.00" fill="#ace1e8"/>
<rect x="162.9" y="715.0" width="37.05" height="1.50" fill="#b4e9f0"/>
<rect x="162.9" y="718.0" width="37.05" height="1.00" fill="#b8eaf1"/>
<rect x="162.9" y="719.0" width="37.05" height="1.00" fill="#b5eaf0"/>
<rect x="162.9" y="720.0" width="37.05" height="1.50" fill="#abe0e7"/>
<rect x="162.9" y="723.5" width="37.05" height="2.00" fill="#b6eaf0"/>
<rect x="162.9" y="725.5" width="37.05" height="1.50" fill="#b6eaf0"/>
<rect x="162.9" y="727.0" width="37.05" height="1.00" fill="#aadfe5"/>
<rect x="162.9" y="728.0" width="37.05" height="2.00" fill="#b7eaf1"/>
<rect x="162.9" y="730.0" width="37.05" height="2.00" fill="#b5e9f0"/>
<rect x="162.9" y="732.0" width="37.05" height="1.50" fill="#b4e9f0"/>
<rect x="162.9" y="733.5" width="37.05" height="2.00" fill="#b6eaf0"/>
<rect x="162.9" y="736.5" width="37.05" height="1.00" fill="#aadee5"/>
<rect x="162.9" y="737.5" width="37.05" height="2.00" fill="#a9dee4"/>
<rect x="162.9" y="740.5" width="37.05" height="1.00" fill="#b7eaf1"/>
<rect x="162.9" y="741.5" width="37.05" height="1.00" fill="#a9dde4"/>
<rect x="162.9" y="742.5" width="37.05" height="2.00" fill="#b5e9f0"/>
<rect x="162.9" y="744.5" width="37.05" height="1.00" fill="#ace1e8"/>
<rect x="162.9" y="751.5" width="37.05" height="15.55" fill="#c8ecd8"/>
<rect x="162.9" y="751.5" width="37.05" height="1.50" fill="#bfe2cf"/>
<rect x="162.9" y="753.0" width="37.05" height="2.00" fill="#bfe1ce"/>
<rect x="162.9" y="755.0" width="37.05" height="2.00" fill="#cbedda"/>
<rect x="162.9" y="759.0" width="37.05" height="1.50" fill="#cbedda"/>
<rect x="162.9" y="760.5" width="37.05" height="2.00" fill="#cceddb"/>
<rect x="162.9" y="762.5" width="37.05" height="1.00" fill="#caedda"/>
<rect x="162.9" y="766.0" width="37.05" height="1.00" fill="#bfe1ce"/>
<rect x="162.9" y="767.0" width="37.05" height="1.55" fill="#70b0d8"/>
<rect x="162.9" y="768.5" width="37.05" height="44.55" fill="#b4eaee"/>
<rect x="162.9" y="768.5" width="37.05" height="1.50" fill="#b9ebef"/>
<rect x="162.9" y="770.0" width="37.05" height="2.00" fill="#baebef"/>
<rect x="162.9" y="772.0" width="37.05" height="1.50" fill="#b7ebee"/>
<rect x="162.9" y="773.5" width="37.05" height="1.50" fill="#b6eaee"/>
<rect x="162.9" y="777.0" width="37.05" height="2.00" fill="#baebef"/>
<rect x="162.9" y="779.0" width="37.05" height="1.50" fill="#b6eaee"/>
<rect x="162.9" y="780.5" width="37.05" height="1.00" fill="#ade1e4"/>
<rect x="162.9" y="781.5" width="37.05" height="2.00" fill="#abdee2"/>
<rect x="162.9" y="783.5" width="37.05" height="1.50" fill="#b9ebef"/>
<rect x="162.9" y="787.0" width="37.05" height="1.00" fill="#b8ebee"/>
<rect x="162.9" y="792.0" width="37.05" height="2.00" fill="#b9ebef"/>
<rect x="162.9" y="794.0" width="37.05" height="2.00" fill="#b9ebef"/>
<rect x="162.9" y="798.0" width="37.05" height="2.00" fill="#b7ebee"/>
<rect x="162.9" y="803.0" width="37.05" height="1.50" fill="#b8ebef"/>
<rect x="162.9" y="804.5" width="37.05" height="1.50" fill="#b6eaee"/>
<rect x="162.9" y="808.0" width="37.05" height="1.00" fill="#ade1e5"/>
<rect x="162.9" y="809.0" width="37.05" height="2.00" fill="#baebef"/>
<rect x="162.9" y="811.0" width="37.05" height="1.50" fill="#baebef"/>
<rect x="162.9" y="813.0" width="37.05" height="12.05" fill="#a4daee"/>
<rect x="162.9" y="813.0" width="37.05" height="2.00" fill="#9ccfe3"/>
<rect x="162.9" y="815.0" width="37.05" height="1.00" fill="#9ed3e6"/>
<rect x="162.9" y="816.0" width="37.05" height="2.00" fill="#a7dbee"/>
<rect x="162.9" y="818.0" width="37.05" height="2.00" fill="#9dd1e4"/>
<rect x="162.9" y="820.0" width="37.05" height="1.00" fill="#9dd1e4"/>
<rect x="162.9" y="821.0" width="37.05" height="2.00" fill="#a9dcee"/>
<rect x="162.9" y="823.0" width="37.05" height="1.00" fill="#a9dcef"/>
<rect x="162.9" y="824.0" width="37.05" height="1.00" fill="#aadcef"/>
<rect x="162.9" y="825.0" width="37.05" height="22.05" fill="#b4eaee"/>
<rect x="162.9" y="825.0" width="37.05" height="1.00" fill="#b9ebef"/>
<rect x="162.9" y="826.0" width="37.05" height="2.00" fill="#baebef"/>
<rect x="162.9" y="829.0" width="37.05" height="1.00" fill="#ade1e5"/>
<rect x="162.9" y="830.0" width="37.05" height="1.00" fill="#baebef"/>
<rect x="162.9" y="831.0" width="37.05" height="2.00" fill="#ade1e5"/>
<rect x="162.9" y="833.0" width="37.05" height="2.00" fill="#b6eaee"/>
<rect x="162.9" y="835.0" width="37.05" height="1.50" fill="#ade1e5"/>
<rect x="162.9" y="836.5" width="37.05" height="1.00" fill="#b8ebef"/>
<rect x="162.9" y="841.0" width="37.05" height="1.50" fill="#abdee2"/>
<rect x="162.9" y="842.5" width="37.05" height="1.50" fill="#baebef"/>
<rect x="162.9" y="844.0" width="37.05" height="1.00" fill="#b7ebee"/>
<rect x="162.9" y="845.0" width="37.05" height="1.50" fill="#b9ebef"/>
<rect x="162.9" y="847.0" width="37.05" height="13.85" fill="#8ccaf0"/>
<rect x="162.9" y="849.0" width="37.05" height="1.50" fill="#90cbf0"/>
<rect x="162.9" y="850.5" width="37.05" height="1.00" fill="#92cdf0"/>
<rect x="162.9" y="853.5" width="37.05" height="2.00" fill="#85c1e5"/>
<rect x="162.9" y="857.5" width="37.05" height="1.00" fill="#8fcbf0"/>
<rect x="162.9" y="860.8" width="37.05" height="28.85" fill="#b8ebec"/>
<rect x="162.9" y="860.8" width="37.05" height="1.50" fill="#bceced"/>
<rect x="162.9" y="862.3" width="37.05" height="1.00" fill="#aedfe0"/>
<rect x="162.9" y="863.3" width="37.05" height="1.50" fill="#b1e2e3"/>
<rect x="162.9" y="864.8" width="37.05" height="2.00" fill="#bceced"/>
<rect x="162.9" y="866.8" width="37.05" height="1.00" fill="#beeced"/>
<rect x="162.9" y="872.8" width="37.05" height="1.00" fill="#bdeced"/>
<rect x="162.9" y="874.8" width="37.05" height="1.00" fill="#bdeced"/>
<rect x="162.9" y="878.8" width="37.05" height="1.00" fill="#baebec"/>
<rect x="162.9" y="879.8" width="37.05" height="1.50" fill="#b1e2e3"/>
<rect x="162.9" y="881.3" width="37.05" height="1.50" fill="#bdeced"/>
<rect x="162.9" y="882.8" width="37.05" height="2.00" fill="#b1e2e3"/>
<rect x="162.9" y="884.8" width="37.05" height="2.00" fill="#afe0e1"/>
<rect x="162.9" y="887.8" width="37.05" height="1.50" fill="#bdeced"/>
<rect x="199.9" y="600.8" width="37.05" height="24.95" fill="#b0e4f0"/>
<rect x="199.9" y="604.8" width="37.05" height="1.50" fill="#aadce8"/>
<rect x="199.9" y="606.3" width="37.05" height="2.00" fill="#b4e5f0"/>
<rect x="199.9" y="608.3" width="37.05" height="2.00" fill="#b3e5f0"/>
<rect x="199.9" y="610.3" width="37.05" height="1.50" fill="#b2e4f0"/>
<rect x="199.9" y="613.8" width="37.05" height="1.50" fill="#b3e5f0"/>
<rect x="199.9" y="618.8" width="37.05" height="1.50" fill="#b2e4f0"/>
<rect x="199.9" y="621.3" width="37.05" height="2.00" fill="#b5e5f1"/>
<rect x="199.9" y="625.7" width="37.05" height="1.65" fill="#c0e0d8"/>
<rect x="199.9" y="627.3" width="37.05" height="13.75" fill="#b0e4f0"/>
<rect x="199.9" y="627.3" width="37.05" height="2.00" fill="#b5e5f0"/>
<rect x="199.9" y="631.3" width="37.05" height="1.00" fill="#b6e6f1"/>
<rect x="199.9" y="638.3" width="37.05" height="2.00" fill="#b7e6f1"/>
<rect x="199.9" y="640.3" width="37.05" height="0.70" fill="#b6e6f1"/>
<rect x="199.9" y="641.0" width="37.05" height="2.45" fill="#90c8e0"/>
<rect x="199.9" y="643.4" width="37.05" height="19.25" fill="#b0e0f0"/>
<rect x="199.9" y="644.4" width="37.05" height="1.00" fill="#b6e2f1"/>
<rect x="199.9" y="645.4" width="37.05" height="1.50" fill="#b4e1f0"/>
<rect x="199.9" y="648.4" width="37.05" height="1.00" fill="#b3e1f0"/>
<rect x="199.9" y="652.9" width="37.05" height="1.50" fill="#b3e1f0"/>
<rect x="199.9" y="654.4" width="37.05" height="2.00" fill="#b6e2f1"/>
<rect x="199.9" y="662.6" width="37.05" height="1.65" fill="#6898c8"/>
<rect x="199.9" y="664.2" width="37.05" height="1.55" fill="#c0e0d8"/>
<rect x="199.9" y="665.7" width="37.05" height="2.35" fill="#f0a850"/>
<rect x="199.9" y="668.0" width="37.05" height="5.45" fill="#c0e8e0"/>
<rect x="199.9" y="668.0" width="37.05" height="1.50" fill="#c3e9e1"/>
<rect x="199.9" y="669.5" width="37.05" height="2.00" fill="#c3e9e1"/>
<rect x="199.9" y="671.5" width="37.05" height="1.50" fill="#c4e9e2"/>
<rect x="199.9" y="673.4" width="37.05" height="19.65" fill="#e8d090"/>
<rect x="199.9" y="673.4" width="37.05" height="2.00" fill="#e9d295"/>
<rect x="199.9" y="675.4" width="37.05" height="2.00" fill="#e9d295"/>
<rect x="199.9" y="677.4" width="37.05" height="1.00" fill="#e9d295"/>
<rect x="199.9" y="678.4" width="37.05" height="2.00" fill="#e0c98b"/>
<rect x="199.9" y="681.9" width="37.05" height="2.00" fill="#e9d295"/>
<rect x="199.9" y="685.4" width="37.05" height="1.50" fill="#e9d295"/>
<rect x="199.9" y="690.4" width="37.05" height="1.00" fill="#e8d194"/>
<rect x="199.9" y="693.0" width="37.05" height="37.05" fill="#d8e8c0"/>
<rect x="199.9" y="693.0" width="37.05" height="2.00" fill="#dbe9c5"/>
<rect x="199.9" y="695.0" width="37.05" height="1.00" fill="#dae9c4"/>
<rect x="199.9" y="696.0" width="37.05" height="1.50" fill="#dae9c3"/>
<rect x="199.9" y="697.5" width="37.05" height="1.50" fill="#dae9c4"/>
<rect x="199.9" y="699.0" width="37.05" height="1.00" fill="#ceddb7"/>
<rect x="199.9" y="702.0" width="37.05" height="2.00" fill="#dae9c3"/>
<rect x="199.9" y="705.0" width="37.05" height="1.00" fill="#dae9c4"/>
<rect x="199.9" y="709.5" width="37.05" height="1.00" fill="#d9e8c2"/>
<rect x="199.9" y="712.0" width="37.05" height="1.50" fill="#dae9c3"/>
<rect x="199.9" y="717.0" width="37.05" height="2.00" fill="#dae9c3"/>
<rect x="199.9" y="719.0" width="37.05" height="1.00" fill="#dae9c3"/>
<rect x="199.9" y="724.5" width="37.05" height="1.00" fill="#cfdeb8"/>
<rect x="199.9" y="725.5" width="37.05" height="1.50" fill="#d9e8c2"/>
<rect x="199.9" y="729.0" width="37.05" height="1.00" fill="#d0dfb9"/>
<rect x="199.9" y="730.0" width="37.05" height="10.85" fill="#e8c878"/>
<rect x="199.9" y="730.0" width="37.05" height="1.50" fill="#e9ca7f"/>
<rect x="199.9" y="731.5" width="37.05" height="2.00" fill="#e9cc83"/>
<rect x="199.9" y="735.0" width="37.05" height="1.00" fill="#e0c174"/>
<rect x="199.9" y="736.0" width="37.05" height="1.00" fill="#e9cb80"/>
<rect x="199.9" y="740.8" width="37.05" height="6.25" fill="#d8e8c0"/>
<rect x="199.9" y="740.8" width="37.05" height="1.00" fill="#dae9c4"/>
<rect x="199.9" y="742.8" width="37.05" height="2.00" fill="#dae9c4"/>
<rect x="199.9" y="746.3" width="37.05" height="0.70" fill="#dae9c3"/>
<rect x="199.9" y="747.0" width="37.05" height="3.85" fill="#f0b860"/>
<rect x="199.9" y="747.0" width="37.05" height="2.00" fill="#e8b25c"/>
<rect x="199.9" y="750.8" width="37.05" height="17.75" fill="#c8e8d8"/>
<rect x="199.9" y="751.8" width="37.05" height="1.50" fill="#cae9d9"/>
<rect x="199.9" y="753.3" width="37.05" height="1.50" fill="#cae9d9"/>
<rect x="199.9" y="754.8" width="37.05" height="1.50" fill="#bedccd"/>
<rect x="199.9" y="756.3" width="37.05" height="2.00" fill="#cbe9da"/>
<rect x="199.9" y="762.8" width="37.05" height="2.00" fill="#c0dfcf"/>
<rect x="199.9" y="766.3" width="37.05" height="1.50" fill="#cbe9da"/>
<rect x="199.9" y="767.8" width="37.05" height="0.70" fill="#c0dfcf"/>
<rect x="199.9" y="768.5" width="37.05" height="3.85" fill="#f0b850"/>
<rect x="199.9" y="768.5" width="37.05" height="2.00" fill="#f1bd5d"/>
<rect x="199.9" y="771.5" width="37.05" height="0.80" fill="#f0ba56"/>
<rect x="199.9" y="772.3" width="37.05" height="17.75" fill="#b8e8e8"/>
<rect x="199.9" y="772.3" width="37.05" height="1.00" fill="#bae8e8"/>
<rect x="199.9" y="773.3" width="37.05" height="1.00" fill="#bde9e9"/>
<rect x="199.9" y="776.3" width="37.05" height="2.00" fill="#b1dfdf"/>
<rect x="199.9" y="778.3" width="37.05" height="1.00" fill="#bce9e9"/>
<rect x="199.9" y="779.3" width="37.05" height="1.00" fill="#bce9e9"/>
<rect x="199.9" y="780.3" width="37.05" height="1.50" fill="#bce9e9"/>
<rect x="199.9" y="781.8" width="37.05" height="1.00" fill="#bde9e9"/>
<rect x="199.9" y="784.8" width="37.05" height="2.00" fill="#bae8e8"/>
<rect x="199.9" y="786.8" width="37.05" height="1.00" fill="#bbe9e9"/>
<rect x="199.9" y="787.8" width="37.05" height="2.00" fill="#bce9e9"/>
<rect x="199.9" y="790.0" width="37.05" height="9.05" fill="#c8f0e0"/>
<rect x="199.9" y="793.5" width="37.05" height="1.00" fill="#caf0e1"/>
<rect x="199.9" y="794.5" width="37.05" height="1.50" fill="#caf0e1"/>
<rect x="199.9" y="799.0" width="37.05" height="18.75" fill="#d8e8c0"/>
<rect x="199.9" y="800.0" width="37.05" height="2.00" fill="#cedeb7"/>
<rect x="199.9" y="802.0" width="37.05" height="1.50" fill="#dae9c4"/>
<rect x="199.9" y="807.0" width="37.05" height="2.00" fill="#dae9c4"/>
<rect x="199.9" y="813.5" width="37.05" height="1.50" fill="#dae9c4"/>
<rect x="199.9" y="816.5" width="37.05" height="1.20" fill="#cfdeb8"/>
<rect x="199.9" y="817.7" width="37.05" height="9.35" fill="#a0d8f0"/>
<rect x="199.9" y="819.7" width="37.05" height="2.00" fill="#98cee4"/>
<rect x="199.9" y="821.7" width="37.05" height="2.00" fill="#99cee5"/>
<rect x="199.9" y="823.7" width="37.05" height="2.00" fill="#a7dbf1"/>
<rect x="199.9" y="825.7" width="37.05" height="1.30" fill="#a6daf0"/>
<rect x="199.9" y="827.0" width="37.05" height="18.45" fill="#d8e4c0"/>
<rect x="199.9" y="828.0" width="37.05" height="1.50" fill="#dae5c3"/>
<rect x="199.9" y="829.5" width="37.05" height="1.00" fill="#ced9b7"/>
<rect x="199.9" y="835.5" width="37.05" height="1.50" fill="#dae5c3"/>
<rect x="199.9" y="837.0" width="37.05" height="2.00" fill="#dae5c3"/>
<rect x="199.9" y="841.5" width="37.05" height="2.00" fill="#cedab7"/>
<rect x="199.9" y="845.4" width="37.05" height="15.45" fill="#90d0f0"/>
<rect x="199.9" y="846.9" width="37.05" height="2.00" fill="#99d4f1"/>
<rect x="199.9" y="850.9" width="37.05" height="1.00" fill="#94d1f0"/>
<rect x="199.9" y="852.9" width="37.05" height="1.50" fill="#95d2f0"/>
<rect x="199.9" y="854.4" width="37.05" height="1.00" fill="#93d1f0"/>
<rect x="199.9" y="855.4" width="37.05" height="2.00" fill="#8ac8e6"/>
<rect x="199.9" y="858.4" width="37.05" height="2.00" fill="#98d3f1"/>
<rect x="199.9" y="860.8" width="37.05" height="15.25" fill="#d8e4c0"/>
<rect x="199.9" y="860.8" width="37.05" height="2.00" fill="#d9e4c1"/>
<rect x="199.9" y="864.3" width="37.05" height="1.00" fill="#cedab7"/>
<rect x="199.9" y="865.3" width="37.05" height="1.50" fill="#d9e4c2"/>
<rect x="199.9" y="866.8" width="37.05" height="2.00" fill="#cfdab8"/>
<rect x="199.9" y="868.8" width="37.05" height="2.00" fill="#dbe6c4"/>
<rect x="199.9" y="872.8" width="37.05" height="1.00" fill="#d9e5c2"/>
<rect x="199.9" y="873.8" width="37.05" height="2.00" fill="#d9e5c2"/>
<rect x="199.9" y="876.0" width="37.05" height="13.65" fill="#c0ecd8"/>
<rect x="199.9" y="876.0" width="37.05" height="2.00" fill="#b8e2cf"/>
<rect x="199.9" y="878.0" width="37.05" height="1.00" fill="#c2ecd9"/>
<rect x="199.9" y="879.0" width="37.05" height="1.50" fill="#c2ecd9"/>
<rect x="199.9" y="880.5" width="37.05" height="1.00" fill="#b9e3d0"/>
<rect x="199.9" y="881.5" width="37.05" height="1.00" fill="#c4edda"/>
<rect x="199.9" y="882.5" width="37.05" height="1.50" fill="#c3edda"/>
<rect x="199.9" y="884.0" width="37.05" height="2.00" fill="#b6e0cd"/>
<rect x="199.9" y="886.0" width="37.05" height="1.00" fill="#c3edda"/>
<rect x="199.9" y="887.0" width="37.05" height="2.00" fill="#c3ecd9"/>
<rect x="236.9" y="600.8" width="37.05" height="4.95" fill="#b8e4e8"/>
<rect x="236.9" y="603.3" width="37.05" height="2.00" fill="#bde6e9"/>
<rect x="236.9" y="605.7" width="37.05" height="3.15" fill="#f07840"/>
<rect x="236.9" y="606.7" width="37.05" height="2.00" fill="#e5723d"/>
<rect x="236.9" y="608.8" width="37.05" height="30.75" fill="#ecc878"/>
<rect x="236.9" y="608.8" width="37.05" height="1.00" fill="#edcb7f"/>
<rect x="236.9" y="609.8" width="37.05" height="1.50" fill="#ecc97c"/>
<rect x="236.9" y="612.8" width="37.05" height="1.00" fill="#ecca7e"/>
<rect x="236.9" y="613.8" width="37.05" height="2.00" fill="#ecc97c"/>
<rect x="236.9" y="615.8" width="37.05" height="2.00" fill="#edcc83"/>
<rect x="236.9" y="617.8" width="37.05" height="1.50" fill="#edcb7f"/>
<rect x="236.9" y="619.3" width="37.05" height="2.00" fill="#e3c073"/>
<rect x="236.9" y="623.3" width="37.05" height="1.00" fill="#ecca7d"/>
<rect x="236.9" y="624.3" width="37.05" height="1.50" fill="#e0be72"/>
<rect x="236.9" y="625.8" width="37.05" height="2.00" fill="#ecca7d"/>
<rect x="236.9" y="628.8" width="37.05" height="1.00" fill="#e4c174"/>
<rect x="236.9" y="632.8" width="37.05" height="2.00" fill="#edca7f"/>
<rect x="236.9" y="635.8" width="37.05" height="2.00" fill="#ecca7e"/>
<rect x="236.9" y="637.8" width="37.05" height="1.00" fill="#ecca7f"/>
<rect x="236.9" y="639.5" width="37.05" height="10.85" fill="#b0e0e8"/>
<rect x="236.9" y="639.5" width="37.05" height="2.00" fill="#b3e1e9"/>
<rect x="236.9" y="641.5" width="37.05" height="1.50" fill="#b3e1e9"/>
<rect x="236.9" y="643.0" width="37.05" height="1.50" fill="#b6e2e9"/>
<rect x="236.9" y="644.5" width="37.05" height="1.00" fill="#b3e1e9"/>
<rect x="236.9" y="645.5" width="37.05" height="1.00" fill="#a8d6de"/>
<rect x="236.9" y="646.5" width="37.05" height="2.00" fill="#b3e1e9"/>
<rect x="236.9" y="648.5" width="37.05" height="1.80" fill="#a9d7de"/>
<rect x="236.9" y="650.3" width="37.05" height="1.55" fill="#e0c890"/>
<rect x="236.9" y="651.8" width="37.05" height="10.85" fill="#a0d0f0"/>
<rect x="236.9" y="655.3" width="37.05" height="1.50" fill="#a3d1f0"/>
<rect x="236.9" y="658.3" width="37.05" height="2.00" fill="#a4d2f0"/>
<rect x="236.9" y="660.3" width="37.05" height="1.50" fill="#a4d2f0"/>
<rect x="236.9" y="661.8" width="37.05" height="0.80" fill="#a8d4f1"/>
<rect x="236.9" y="662.6" width="37.05" height="11.95" fill="#90c8f0"/>
<rect x="236.9" y="667.1" width="37.05" height="1.50" fill="#99ccf1"/>
<rect x="236.9" y="670.6" width="37.05" height="1.50" fill="#8abfe6"/>
<rect x="236.9" y="672.1" width="37.05" height="2.00" fill="#95caf0"/>
<rect x="236.9" y="674.5" width="37.05" height="2.05" fill="#e0c890"/>
<rect x="236.9" y="676.5" width="37.05" height="4.55" fill="#c0e8e0"/>
<rect x="236.9" y="678.5" width="37.05" height="2.00" fill="#c3e9e1"/>
<rect x="236.9" y="681.0" width="37.05" height="4.75" fill="#78b0e8"/>
<rect x="236.9" y="681.0" width="37.05" height="1.00" fill="#80b5e9"/>
<rect x="236.9" y="682.0" width="37.05" height="2.00" fill="#80b5e9"/>
<rect x="236.9" y="685.7" width="37.05" height="27.35" fill="#98d4f4"/>
<rect x="236.9" y="688.7" width="37.05" height="1.00" fill="#9ed6f4"/>
<rect x="236.9" y="689.7" width="37.05" height="1.50" fill="#9cd5f4"/>
<rect x="236.9" y="695.2" width="37.05" height="1.00" fill="#9ed6f4"/>
<rect x="236.9" y="698.2" width="37.05" height="2.00" fill="#9cd5f4"/>
<rect x="236.9" y="702.7" width="37.05" height="1.50" fill="#9ed6f4"/>
<rect x="236.9" y="704.2" width="37.05" height="1.00" fill="#9ed6f4"/>
<rect x="236.9" y="705.2" width="37.05" height="2.00" fill="#a0d7f4"/>
<rect x="236.9" y="708.2" width="37.05" height="1.00" fill="#9cd5f4"/>
<rect x="236.9" y="709.2" width="37.05" height="1.50" fill="#9dd6f4"/>
<rect x="236.9" y="710.7" width="37.05" height="1.50" fill="#9bd5f4"/>
<rect x="236.9" y="712.2" width="37.05" height="0.80" fill="#9ed6f4"/>
<rect x="236.9" y="713.0" width="37.05" height="17.05" fill="#88c8f0"/>
<rect x="236.9" y="714.5" width="37.05" height="2.00" fill="#8fcbf0"/>
<rect x="236.9" y="719.5" width="37.05" height="1.50" fill="#90ccf1"/>
<rect x="236.9" y="723.0" width="37.05" height="2.00" fill="#8bc9f0"/>
<rect x="236.9" y="730.0" width="37.05" height="18.05" fill="#98d4f4"/>
<rect x="236.9" y="730.0" width="37.05" height="1.50" fill="#9ed6f4"/>
<rect x="236.9" y="735.0" width="37.05" height="1.50" fill="#9ed6f4"/>
<rect x="236.9" y="738.5" width="37.05" height="2.00" fill="#9bd5f4"/>
<rect x="236.9" y="740.5" width="37.05" height="1.00" fill="#91cae8"/>
<rect x="236.9" y="747.0" width="37.05" height="1.00" fill="#9dd6f4"/>
<rect x="236.9" y="748.0" width="37.05" height="3.05" fill="#80b8e8"/>
<rect x="236.9" y="748.0" width="37.05" height="2.00" fill="#8abee9"/>
<rect x="236.9" y="750.0" width="37.05" height="1.00" fill="#88bce9"/>
<rect x="236.9" y="751.0" width="37.05" height="16.05" fill="#a8e0f0"/>
<rect x="236.9" y="753.5" width="37.05" height="1.00" fill="#a0d6e5"/>
<rect x="236.9" y="758.5" width="37.05" height="1.00" fill="#aee2f1"/>
<rect x="236.9" y="761.5" width="37.05" height="1.00" fill="#ace1f0"/>
<rect x="236.9" y="765.5" width="37.05" height="1.00" fill="#afe2f1"/>
<rect x="236.9" y="767.0" width="37.05" height="28.05" fill="#98d4f4"/>
<rect x="236.9" y="771.0" width="37.05" height="1.00" fill="#a1d7f4"/>
<rect x="236.9" y="773.0" width="37.05" height="1.50" fill="#a0d7f4"/>
<rect x="236.9" y="774.5" width="37.05" height="1.00" fill="#9fd7f4"/>
<rect x="236.9" y="775.5" width="37.05" height="1.00" fill="#9ed6f4"/>
<rect x="236.9" y="777.5" width="37.05" height="2.00" fill="#9dd6f4"/>
<rect x="236.9" y="779.5" width="37.05" height="2.00" fill="#9dd6f4"/>
<rect x="236.9" y="781.5" width="37.05" height="1.50" fill="#91cbe9"/>
<rect x="236.9" y="784.0" width="37.05" height="1.00" fill="#a0d7f4"/>
<rect x="236.9" y="785.0" width="37.05" height="2.00" fill="#9dd6f4"/>
<rect x="236.9" y="787.0" width="37.05" height="2.00" fill="#9bd5f4"/>
<rect x="236.9" y="789.0" width="37.05" height="2.00" fill="#92cceb"/>
<rect x="236.9" y="792.5" width="37.05" height="1.50" fill="#93cdec"/>
<rect x="236.9" y="795.0" width="37.05" height="33.55" fill="#90d0f0"/>
<rect x="236.9" y="796.5" width="37.05" height="1.00" fill="#98d3f1"/>
<rect x="236.9" y="798.5" width="37.05" height="1.00" fill="#96d2f0"/>
<rect x="236.9" y="799.5" width="37.05" height="1.00" fill="#98d3f1"/>
<rect x="236.9" y="800.5" width="37.05" height="1.00" fill="#8ac7e6"/>
<rect x="236.9" y="801.5" width="37.05" height="2.00" fill="#97d3f1"/>
<rect x="236.9" y="803.5" width="37.05" height="2.00" fill="#8bc9e8"/>
<rect x="236.9" y="805.5" width="37.05" height="1.50" fill="#99d3f1"/>
<rect x="236.9" y="807.0" width="37.05" height="1.50" fill="#97d3f1"/>
<rect x="236.9" y="808.5" width="37.05" height="2.00" fill="#8ac7e6"/>
<rect x="236.9" y="827.0" width="37.05" height="1.50" fill="#8bc8e7"/>
<rect x="236.9" y="828.5" width="37.05" height="1.55" fill="#70b0e0"/>
<rect x="236.9" y="830.0" width="37.05" height="11.05" fill="#a8e0f0"/>
<rect x="236.9" y="830.0" width="37.05" height="2.00" fill="#a0d6e5"/>
<rect x="236.9" y="832.0" width="37.05" height="2.00" fill="#aee2f1"/>
<rect x="236.9" y="836.0" width="37.05" height="1.50" fill="#a2d8e8"/>
<rect x="236.9" y="837.5" width="37.05" height="1.00" fill="#afe2f1"/>
<rect x="236.9" y="838.5" width="37.05" height="1.50" fill="#afe2f1"/>
<rect x="236.9" y="840.0" width="37.05" height="1.00" fill="#aee2f1"/>
<rect x="236.9" y="841.0" width="37.05" height="6.05" fill="#c8ecd8"/>
<rect x="236.9" y="842.0" width="37.05" height="1.50" fill="#ccedda"/>
<rect x="236.9" y="843.5" width="37.05" height="1.00" fill="#cbedda"/>
<rect x="236.9" y="846.0" width="37.05" height="1.00" fill="#bee0cd"/>
<rect x="236.9" y="847.0" width="37.05" height="42.65" fill="#90d0f0"/>
<rect x="236.9" y="858.0" width="37.05" height="1.00" fill="#95d2f0"/>
<rect x="236.9" y="859.0" width="37.05" height="1.00" fill="#93d1f0"/>
<rect x="236.9" y="860.0" width="37.05" height="1.00" fill="#98d3f1"/>
<rect x="236.9" y="864.5" width="37.05" height="1.00" fill="#93d1f0"/>
<rect x="236.9" y="865.5" width="37.05" height="2.00" fill="#94d1f0"/>
<rect x="236.9" y="867.5" width="37.05" height="1.00" fill="#93d1f0"/>
<rect x="236.9" y="868.5" width="37.05" height="1.00" fill="#89c5e4"/>
<rect x="236.9" y="869.5" width="37.05" height="2.00" fill="#95d2f0"/>
<rect x="236.9" y="871.5" width="37.05" height="1.50" fill="#97d3f1"/>
<rect x="236.9" y="875.5" width="37.05" height="2.00" fill="#97d3f1"/>
<rect x="236.9" y="877.5" width="37.05" height="1.50" fill="#8ac8e7"/>
<rect x="236.9" y="879.0" width="37.05" height="1.50" fill="#98d3f1"/>
<rect x="236.9" y="880.5" width="37.05" height="1.50" fill="#8bc9e8"/>
<rect x="236.9" y="885.0" width="37.05" height="1.50" fill="#89c6e5"/>
<rect x="236.9" y="888.5" width="37.05" height="1.10" fill="#97d3f1"/>
<rect x="273.9" y="600.8" width="36.95" height="2.75" fill="#e0e8c8"/>
<rect x="273.9" y="602.3" width="36.95" height="1.20" fill="#e2e9cc"/>
<rect x="273.9" y="603.5" width="36.95" height="3.05" fill="#e8c890"/>
<rect x="273.9" y="603.5" width="36.95" height="1.00" fill="#e0c18b"/>
<rect x="273.9" y="606.5" width="36.95" height="2.35" fill="#c8ecd8"/>
<rect x="273.9" y="608.8" width="36.95" height="32.25" fill="#f5b040"/>
<rect x="273.9" y="608.8" width="36.95" height="1.50" fill="#f5b44b"/>
<rect x="273.9" y="610.3" width="36.95" height="1.50" fill="#f5b245"/>
<rect x="273.9" y="612.8" width="36.95" height="1.00" fill="#f5b64f"/>
<rect x="273.9" y="616.3" width="36.95" height="2.00" fill="#edaa3e"/>
<rect x="273.9" y="618.3" width="36.95" height="1.00" fill="#f5b650"/>
<rect x="273.9" y="619.3" width="36.95" height="1.00" fill="#f5b247"/>
<rect x="273.9" y="620.3" width="36.95" height="1.00" fill="#eca93d"/>
<rect x="273.9" y="622.8" width="36.95" height="1.00" fill="#e9a73c"/>
<rect x="273.9" y="623.8" width="36.95" height="2.00" fill="#f5b44a"/>
<rect x="273.9" y="625.8" width="36.95" height="1.50" fill="#e9a73c"/>
<rect x="273.9" y="627.3" width="36.95" height="2.00" fill="#f5b347"/>
<rect x="273.9" y="632.8" width="36.95" height="1.50" fill="#f5b54d"/>
<rect x="273.9" y="636.3" width="36.95" height="1.50" fill="#ecaa3d"/>
<rect x="273.9" y="637.8" width="36.95" height="1.50" fill="#f5b246"/>
<rect x="273.9" y="639.3" width="36.95" height="1.50" fill="#eca93d"/>
<rect x="273.9" y="641.0" width="36.95" height="4.75" fill="#c8e8d8"/>
<rect x="273.9" y="643.0" width="36.95" height="1.00" fill="#cbe9da"/>
<rect x="273.9" y="644.0" width="36.95" height="1.00" fill="#cae9d9"/>
<rect x="273.9" y="645.0" width="36.95" height="0.70" fill="#cae9da"/>
<rect x="273.9" y="645.7" width="36.95" height="6.15" fill="#98d0f0"/>
<rect x="273.9" y="645.7" width="36.95" height="1.00" fill="#a0d3f1"/>
<rect x="273.9" y="646.7" width="36.95" height="1.00" fill="#a0d3f1"/>
<rect x="273.9" y="647.7" width="36.95" height="1.50" fill="#9cd2f0"/>
<rect x="273.9" y="649.2" width="36.95" height="2.00" fill="#9ed3f1"/>
<rect x="273.9" y="651.2" width="36.95" height="0.60" fill="#91c6e5"/>
<rect x="273.9" y="651.8" width="36.95" height="10.85" fill="#b0e0f0"/>
<rect x="273.9" y="651.8" width="36.95" height="1.00" fill="#b4e1f0"/>
<rect x="273.9" y="654.3" width="36.95" height="1.50" fill="#b3e1f0"/>
<rect x="273.9" y="655.8" width="36.95" height="2.00" fill="#b4e1f0"/>
<rect x="273.9" y="657.8" width="36.95" height="1.50" fill="#b5e1f0"/>
<rect x="273.9" y="659.3" width="36.95" height="2.00" fill="#a8d6e5"/>
<rect x="273.9" y="662.6" width="36.95" height="12.45" fill="#90c8f0"/>
<rect x="273.9" y="662.6" width="36.95" height="2.00" fill="#98ccf1"/>
<rect x="273.9" y="664.6" width="36.95" height="1.00" fill="#97cbf1"/>
<rect x="273.9" y="665.6" width="36.95" height="2.00" fill="#94caf0"/>
<rect x="273.9" y="667.6" width="36.95" height="1.50" fill="#8ac1e7"/>
<rect x="273.9" y="669.1" width="36.95" height="1.00" fill="#8abfe6"/>
<rect x="273.9" y="671.6" width="36.95" height="2.00" fill="#89bee4"/>
<rect x="273.9" y="675.0" width="36.95" height="5.35" fill="#5090d8"/>
<rect x="273.9" y="675.0" width="36.95" height="1.50" fill="#5a96da"/>
<rect x="273.9" y="676.5" width="36.95" height="1.50" fill="#5694d9"/>
<rect x="273.9" y="678.0" width="36.95" height="1.00" fill="#4c89ce"/>
<rect x="273.9" y="679.0" width="36.95" height="1.30" fill="#5694d9"/>
<rect x="273.9" y="680.3" width="36.95" height="21.75" fill="#80b8ec"/>
<rect x="273.9" y="680.3" width="36.95" height="2.00" fill="#84baec"/>
<rect x="273.9" y="684.3" width="36.95" height="1.00" fill="#84baec"/>
<rect x="273.9" y="685.3" width="36.95" height="1.50" fill="#7bb1e4"/>
<rect x="273.9" y="690.3" width="36.95" height="1.00" fill="#7bb1e4"/>
<rect x="273.9" y="691.3" width="36.95" height="2.00" fill="#8abded"/>
<rect x="273.9" y="693.3" width="36.95" height="2.00" fill="#89bded"/>
<rect x="273.9" y="696.3" width="36.95" height="2.00" fill="#8abded"/>
<rect x="273.9" y="698.3" width="36.95" height="1.50" fill="#7bb1e4"/>
<rect x="273.9" y="699.8" width="36.95" height="1.00" fill="#89bded"/>
<rect x="273.9" y="700.8" width="36.95" height="1.20" fill="#83baec"/>
<rect x="273.9" y="702.0" width="36.95" height="6.55" fill="#68a8e8"/>
<rect x="273.9" y="703.5" width="36.95" height="1.00" fill="#70ace9"/>
<rect x="273.9" y="704.5" width="36.95" height="1.50" fill="#72ade9"/>
<rect x="273.9" y="706.0" width="36.95" height="2.00" fill="#6face9"/>
<rect x="273.9" y="708.5" width="36.95" height="43.05" fill="#78b8f0"/>
<rect x="273.9" y="708.5" width="36.95" height="1.00" fill="#7dbaf0"/>
<rect x="273.9" y="715.5" width="36.95" height="1.50" fill="#72afe5"/>
<rect x="273.9" y="726.5" width="36.95" height="1.50" fill="#81bdf1"/>
<rect x="273.9" y="730.0" width="36.95" height="1.00" fill="#7cbaf0"/>
<rect x="273.9" y="736.0" width="36.95" height="2.00" fill="#7fbbf0"/>
<rect x="273.9" y="743.0" width="36.95" height="2.00" fill="#81bcf1"/>
<rect x="273.9" y="745.0" width="36.95" height="2.00" fill="#73b1e7"/>
<rect x="273.9" y="747.0" width="36.95" height="2.00" fill="#82bdf1"/>
<rect x="273.9" y="750.5" width="36.95" height="1.00" fill="#7ebbf0"/>
<rect x="273.9" y="751.5" width="36.95" height="7.55" fill="#68a8e8"/>
<rect x="273.9" y="751.5" width="36.95" height="2.00" fill="#64a2e0"/>
<rect x="273.9" y="753.5" width="36.95" height="1.00" fill="#629fdc"/>
<rect x="273.9" y="754.5" width="36.95" height="2.00" fill="#6caae8"/>
<rect x="273.9" y="759.0" width="36.95" height="11.05" fill="#78b8f0"/>
<rect x="273.9" y="759.0" width="36.95" height="1.50" fill="#81bdf1"/>
<rect x="273.9" y="760.5" width="36.95" height="2.00" fill="#73b1e7"/>
<rect x="273.9" y="762.5" width="36.95" height="1.50" fill="#7ebbf0"/>
<rect x="273.9" y="764.0" width="36.95" height="1.50" fill="#7ebbf0"/>
<rect x="273.9" y="769.0" width="36.95" height="1.00" fill="#7dbaf0"/>
<rect x="273.9" y="770.0" width="36.95" height="6.05" fill="#88c8f0"/>
<rect x="273.9" y="770.0" width="36.95" height="1.00" fill="#8fcbf0"/>
<rect x="273.9" y="774.0" width="36.95" height="1.50" fill="#8fcbf0"/>
<rect x="273.9" y="776.0" width="36.95" height="51.05" fill="#78b8f0"/>
<rect x="273.9" y="776.0" width="36.95" height="1.50" fill="#7cbaf0"/>
<rect x="273.9" y="781.0" width="36.95" height="2.00" fill="#81bcf1"/>
<rect x="273.9" y="784.5" width="36.95" height="1.50" fill="#82bdf1"/>
<rect x="273.9" y="786.0" width="36.95" height="1.00" fill="#72afe4"/>
<rect x="273.9" y="790.0" width="36.95" height="2.00" fill="#7fbcf0"/>
<rect x="273.9" y="792.0" width="36.95" height="2.00" fill="#7cbaf0"/>
<rect x="273.9" y="795.5" width="36.95" height="2.00" fill="#7ebbf0"/>
<rect x="273.9" y="799.0" width="36.95" height="1.50" fill="#72afe5"/>
<rect x="273.9" y="802.5" width="36.95" height="1.00" fill="#7ebbf0"/>
<rect x="273.9" y="807.0" width="36.95" height="1.50" fill="#7dbaf0"/>
<rect x="273.9" y="810.5" width="36.95" height="1.00" fill="#83bef1"/>
<rect x="273.9" y="813.0" width="36.95" height="2.00" fill="#82bdf1"/>
<rect x="273.9" y="817.0" width="36.95" height="2.00" fill="#7fbbf0"/>
<rect x="273.9" y="821.5" width="36.95" height="1.00" fill="#80bcf0"/>
<rect x="273.9" y="824.5" width="36.95" height="2.00" fill="#82bdf1"/>
<rect x="273.9" y="827.0" width="36.95" height="3.05" fill="#90d0f0"/>
<rect x="273.9" y="829.0" width="36.95" height="1.00" fill="#98d3f1"/>
<rect x="273.9" y="830.0" width="36.95" height="16.05" fill="#68a8e8"/>
<rect x="273.9" y="830.0" width="36.95" height="1.50" fill="#6dabe8"/>
<rect x="273.9" y="836.5" width="36.95" height="1.00" fill="#6dabe8"/>
<rect x="273.9" y="837.5" width="36.95" height="2.00" fill="#64a2df"/>
<rect x="273.9" y="839.5" width="36.95" height="2.00" fill="#75afea"/>
<rect x="273.9" y="841.5" width="36.95" height="2.00" fill="#6face9"/>
<rect x="273.9" y="846.0" width="36.95" height="16.35" fill="#98d8f0"/>
<rect x="273.9" y="850.5" width="36.95" height="1.00" fill="#9bd9f0"/>
<rect x="273.9" y="851.5" width="36.95" height="2.00" fill="#91cee4"/>
<rect x="273.9" y="856.5" width="36.95" height="2.00" fill="#9fdaf1"/>
<rect x="273.9" y="858.5" width="36.95" height="2.00" fill="#a1dbf1"/>
<rect x="273.9" y="862.3" width="36.95" height="27.35" fill="#78b8f0"/>
<rect x="273.9" y="862.3" width="36.95" height="2.00" fill="#74b1e8"/>
<rect x="273.9" y="865.3" width="36.95" height="2.00" fill="#73b1e7"/>
<rect x="273.9" y="867.3" width="36.95" height="1.00" fill="#73b0e6"/>
<rect x="273.9" y="870.3" width="36.95" height="1.50" fill="#7cbaf0"/>
<rect x="273.9" y="871.8" width="36.95" height="1.00" fill="#7dbaf0"/>
<rect x="273.9" y="872.8" width="36.95" height="2.00" fill="#7fbcf0"/>
<rect x="273.9" y="877.3" width="36.95" height="1.00" fill="#72afe5"/>
<rect x="273.9" y="878.3" width="36.95" height="2.00" fill="#73b1e7"/>
<rect x="273.9" y="880.3" width="36.95" height="2.00" fill="#73b0e6"/>
<rect x="273.9" y="883.3" width="36.95" height="1.50" fill="#72afe4"/>
<rect x="273.9" y="884.8" width="36.95" height="1.00" fill="#82bdf1"/>
<rect x="273.9" y="885.8" width="36.95" height="2.00" fill="#7fbcf0"/>
<rect x="310.8" y="600.8" width="36.75" height="5.75" fill="#ecc890"/>
<rect x="310.8" y="600.8" width="36.75" height="1.00" fill="#e1bf89"/>
<rect x="310.8" y="601.8" width="36.75" height="2.00" fill="#edcb97"/>
<rect x="310.8" y="603.8" width="36.75" height="1.50" fill="#e0be88"/>
<rect x="310.8" y="606.5" width="36.75" height="2.35" fill="#c8ecd8"/>
<rect x="310.8" y="608.8" width="36.75" height="32.25" fill="#f5a830"/>
<rect x="310.8" y="610.8" width="36.75" height="1.50" fill="#f5af42"/>
<rect x="310.8" y="613.3" width="36.75" height="1.50" fill="#f5ab39"/>
<rect x="310.8" y="620.3" width="36.75" height="1.00" fill="#eba12e"/>
<rect x="310.8" y="622.3" width="36.75" height="1.00" fill="#e99f2d"/>
<rect x="310.8" y="624.8" width="36.75" height="1.50" fill="#eca22e"/>
<rect x="310.8" y="626.3" width="36.75" height="2.00" fill="#f5ae3e"/>
<rect x="310.8" y="629.8" width="36.75" height="1.00" fill="#f5af41"/>
<rect x="310.8" y="630.8" width="36.75" height="1.50" fill="#f5ad3d"/>
<rect x="310.8" y="636.8" width="36.75" height="1.50" fill="#e9a02d"/>
<rect x="310.8" y="638.3" width="36.75" height="2.00" fill="#e9a02d"/>
<rect x="310.8" y="641.0" width="36.75" height="6.25" fill="#c0e8d8"/>
<rect x="310.8" y="641.0" width="36.75" height="1.00" fill="#b8dfd0"/>
<rect x="310.8" y="644.5" width="36.75" height="1.50" fill="#c4e9da"/>
<rect x="310.8" y="647.2" width="36.75" height="4.65" fill="#6ba8e0"/>
<rect x="310.8" y="651.8" width="36.75" height="11.65" fill="#b0e0f0"/>
<rect x="310.8" y="653.3" width="36.75" height="1.00" fill="#b5e2f1"/>
<rect x="310.8" y="654.3" width="36.75" height="2.00" fill="#aad8e8"/>
<rect x="310.8" y="656.3" width="36.75" height="2.00" fill="#b7e2f1"/>
<rect x="310.8" y="658.3" width="36.75" height="2.00" fill="#b5e2f1"/>
<rect x="310.8" y="660.3" width="36.75" height="2.00" fill="#b6e2f1"/>
<rect x="310.8" y="663.4" width="36.75" height="2.35" fill="#6898d8"/>
<rect x="310.8" y="665.7" width="36.75" height="8.35" fill="#98d0f0"/>
<rect x="310.8" y="667.7" width="36.75" height="1.00" fill="#9fd3f1"/>
<rect x="310.8" y="668.7" width="36.75" height="1.00" fill="#9cd2f0"/>
<rect x="310.8" y="670.7" width="36.75" height="1.50" fill="#9dd2f0"/>
<rect x="310.8" y="672.2" width="36.75" height="1.50" fill="#91c6e4"/>
<rect x="310.8" y="674.0" width="36.75" height="6.35" fill="#4888d0"/>
<rect x="310.8" y="676.0" width="36.75" height="1.50" fill="#4481c6"/>
<rect x="310.8" y="677.5" width="36.75" height="2.00" fill="#4582c8"/>
<rect x="310.8" y="679.5" width="36.75" height="0.80" fill="#528ed2"/>
<rect x="310.8" y="680.3" width="36.75" height="5.45" fill="#88c8f0"/>
<rect x="310.8" y="681.3" width="36.75" height="2.00" fill="#90ccf1"/>
<rect x="310.8" y="684.3" width="36.75" height="1.40" fill="#8fcbf0"/>
<rect x="310.8" y="685.7" width="36.75" height="4.65" fill="#5898d8"/>
<rect x="310.8" y="690.3" width="36.75" height="8.75" fill="#80c0ec"/>
<rect x="310.8" y="693.8" width="36.75" height="1.50" fill="#87c3ed"/>
<rect x="310.8" y="695.3" width="36.75" height="2.00" fill="#88c4ed"/>
<rect x="310.8" y="697.3" width="36.75" height="1.00" fill="#8ac5ed"/>
<rect x="310.8" y="698.3" width="36.75" height="0.70" fill="#7ab7e1"/>
<rect x="310.8" y="699.0" width="36.75" height="3.05" fill="#5898e0"/>
<rect x="310.8" y="699.0" width="36.75" height="2.00" fill="#629ee1"/>
<rect x="310.8" y="702.0" width="36.75" height="6.55" fill="#6aaae8"/>
<rect x="310.8" y="702.0" width="36.75" height="1.50" fill="#65a2dd"/>
<rect x="310.8" y="703.5" width="36.75" height="2.00" fill="#71aee9"/>
<rect x="310.8" y="705.5" width="36.75" height="1.00" fill="#77b1ea"/>
<rect x="310.8" y="708.5" width="36.75" height="3.05" fill="#5898e0"/>
<rect x="310.8" y="708.5" width="36.75" height="2.00" fill="#5492d7"/>
<rect x="310.8" y="710.5" width="36.75" height="1.00" fill="#5592d8"/>
<rect x="310.8" y="711.5" width="36.75" height="24.55" fill="#6aaae8"/>
<rect x="310.8" y="711.5" width="36.75" height="2.00" fill="#71aee9"/>
<rect x="310.8" y="713.5" width="36.75" height="2.00" fill="#70ade9"/>
<rect x="310.8" y="715.5" width="36.75" height="1.50" fill="#65a2dd"/>
<rect x="310.8" y="719.5" width="36.75" height="2.00" fill="#65a2dd"/>
<rect x="310.8" y="721.5" width="36.75" height="1.50" fill="#6fade8"/>
<rect x="310.8" y="727.0" width="36.75" height="1.50" fill="#70ade9"/>
<rect x="310.8" y="730.5" width="36.75" height="1.00" fill="#66a4e0"/>
<rect x="310.8" y="733.5" width="36.75" height="1.00" fill="#74b0e9"/>
<rect x="310.8" y="734.5" width="36.75" height="1.50" fill="#6face8"/>
<rect x="310.8" y="736.0" width="36.75" height="6.05" fill="#5898e0"/>
<rect x="310.8" y="736.0" width="36.75" height="1.00" fill="#66a0e2"/>
<rect x="310.8" y="737.0" width="36.75" height="2.00" fill="#5492d8"/>
<rect x="310.8" y="740.5" width="36.75" height="1.50" fill="#619de1"/>
<rect x="310.8" y="742.0" width="36.75" height="14.05" fill="#6aaae8"/>
<rect x="310.8" y="745.0" width="36.75" height="2.00" fill="#6fade8"/>
<rect x="310.8" y="750.5" width="36.75" height="1.50" fill="#70ade9"/>
<rect x="310.8" y="752.0" width="36.75" height="2.00" fill="#70ade9"/>
<rect x="310.8" y="754.0" width="36.75" height="2.00" fill="#6fade8"/>
<rect x="310.8" y="756.0" width="36.75" height="5.05" fill="#5898e0"/>
<rect x="310.8" y="756.0" width="36.75" height="2.00" fill="#5491d6"/>
<rect x="310.8" y="761.0" width="36.75" height="7.05" fill="#6aaae8"/>
<rect x="310.8" y="762.0" width="36.75" height="1.00" fill="#65a2dd"/>
<rect x="310.8" y="763.0" width="36.75" height="2.00" fill="#73afe9"/>
<rect x="310.8" y="768.0" width="36.75" height="3.55" fill="#80c0ec"/>
<rect x="310.8" y="771.5" width="36.75" height="16.55" fill="#6aaae8"/>
<rect x="310.8" y="774.0" width="36.75" height="1.00" fill="#6fade8"/>
<rect x="310.8" y="775.0" width="36.75" height="1.00" fill="#66a4e0"/>
<rect x="310.8" y="779.5" width="36.75" height="1.00" fill="#64a1dc"/>
<rect x="310.8" y="784.5" width="36.75" height="1.50" fill="#66a4e0"/>
<rect x="310.8" y="786.0" width="36.75" height="2.00" fill="#66a4e1"/>
<rect x="310.8" y="788.0" width="36.75" height="3.05" fill="#5898e0"/>
<rect x="310.8" y="790.0" width="36.75" height="1.00" fill="#629ee1"/>
<rect x="310.8" y="791.0" width="36.75" height="36.05" fill="#6aaae8"/>
<rect x="310.8" y="793.0" width="36.75" height="1.00" fill="#70ade9"/>
<rect x="310.8" y="794.0" width="36.75" height="1.00" fill="#6face8"/>
<rect x="310.8" y="795.0" width="36.75" height="1.50" fill="#74afe9"/>
<rect x="310.8" y="796.5" width="36.75" height="1.50" fill="#73afe9"/>
<rect x="310.8" y="798.0" width="36.75" height="1.00" fill="#70ade9"/>
<rect x="310.8" y="800.0" width="36.75" height="1.00" fill="#65a2dd"/>
<rect x="310.8" y="802.5" width="36.75" height="1.00" fill="#71aee9"/>
<rect x="310.8" y="803.5" width="36.75" height="1.50" fill="#76b1e9"/>
<rect x="310.8" y="809.0" width="36.75" height="1.00" fill="#65a2dd"/>
<rect x="310.8" y="810.0" width="36.75" height="1.50" fill="#77b1ea"/>
<rect x="310.8" y="811.5" width="36.75" height="1.50" fill="#65a3df"/>
<rect x="310.8" y="817.0" width="36.75" height="1.00" fill="#70ade8"/>
<rect x="310.8" y="821.5" width="36.75" height="1.50" fill="#75b0e9"/>
<rect x="310.8" y="825.0" width="36.75" height="2.00" fill="#76b0e9"/>
<rect x="310.8" y="827.0" width="36.75" height="3.05" fill="#88c8f0"/>
<rect x="310.8" y="827.0" width="36.75" height="2.00" fill="#8dcaf0"/>
<rect x="310.8" y="830.0" width="36.75" height="1.55" fill="#3878c8"/>
<rect x="310.8" y="831.5" width="36.75" height="14.55" fill="#6aa8e8"/>
<rect x="310.8" y="831.5" width="36.75" height="1.00" fill="#72ace9"/>
<rect x="310.8" y="832.5" width="36.75" height="1.00" fill="#72ade9"/>
<rect x="310.8" y="834.5" width="36.75" height="1.00" fill="#76afe9"/>
<rect x="310.8" y="835.5" width="36.75" height="2.00" fill="#74ade9"/>
<rect x="310.8" y="839.5" width="36.75" height="2.00" fill="#73ade9"/>
<rect x="310.8" y="841.5" width="36.75" height="2.00" fill="#6fabe8"/>
<rect x="310.8" y="846.0" width="36.75" height="15.55" fill="#98d8f0"/>
<rect x="310.8" y="846.0" width="36.75" height="1.50" fill="#93d1e8"/>
<rect x="310.8" y="847.5" width="36.75" height="1.50" fill="#9edaf1"/>
<rect x="310.8" y="850.5" width="36.75" height="1.00" fill="#92d0e7"/>
<rect x="310.8" y="851.5" width="36.75" height="2.00" fill="#a0dbf1"/>
<rect x="310.8" y="855.5" width="36.75" height="1.00" fill="#a0dbf1"/>
<rect x="310.8" y="860.0" width="36.75" height="1.50" fill="#9bd9f0"/>
<rect x="310.8" y="861.5" width="36.75" height="1.55" fill="#5898e0"/>
<rect x="310.8" y="863.0" width="36.75" height="26.65" fill="#70b0e8"/>
<rect x="310.8" y="863.0" width="36.75" height="2.00" fill="#6ba9df"/>
<rect x="310.8" y="868.0" width="36.75" height="1.50" fill="#6ba9df"/>
<rect x="310.8" y="869.5" width="36.75" height="1.00" fill="#79b5e9"/>
<rect x="310.8" y="874.0" width="36.75" height="1.00" fill="#79b5e9"/>
<rect x="310.8" y="877.0" width="36.75" height="1.50" fill="#6ba8de"/>
<rect x="310.8" y="879.5" width="36.75" height="1.50" fill="#7ab5e9"/>
<rect x="310.8" y="882.0" width="36.75" height="2.00" fill="#7bb6e9"/>
<rect x="310.8" y="884.0" width="36.75" height="1.00" fill="#7ab6e9"/>
<rect x="310.8" y="887.0" width="36.75" height="2.00" fill="#76b3e9"/>
<path d="M52.6,600.5 V890 H347.7 V600.5" fill="none" stroke="#111" stroke-width="1.3"/>
<path d="M350.6,607.3 L354.4,577.4 H361" stroke="#222" stroke-width="1" fill="none"/>
<text x="364.5" y="581.2" font-size="10.85">Nitrogen met.</text>
<path d="M350.6,607.3 L354.4,593.8 H361" stroke="#222" stroke-width="1" fill="none"/>
<text x="364.5" y="597.6" font-size="10.85">Serine/Threonine met.</text>
<path d="M350.6,619.7 L354.4,607.3 H361" stroke="#222" stroke-width="1" fill="none"/>
<text x="364.5" y="611.1" font-size="10.85">Complement cascade</text>
<path d="M350.6,648.5 L354.4,621.7 H361" stroke="#222" stroke-width="1" fill="none"/>
<text x="364.5" y="625.5" font-size="10.85">Cytokine signaling</text>
<path d="M350.6,648.5 L354.4,637.1 H361" stroke="#222" stroke-width="1" fill="none"/>
<text x="364.5" y="640.9" font-size="10.85">ALK signaling</text>
<path d="M349,652.2 H361" stroke="#222" stroke-width="1" fill="none"/>
<text x="364.5" y="656.0" font-size="10.85">Eicosonoid signaling</text>
<path d="M350.6,662.6 L354.4,667.1 H361" stroke="#222" stroke-width="1" fill="none"/>
<text x="364.5" y="670.9" font-size="10.85">HDAC resistance</text>
<path d="M350.6,662.6 L354.4,679.4 H361" stroke="#222" stroke-width="1" fill="none"/>
<text x="364.5" y="683.2" font-size="10.85">EMT</text>
<path d="M350.6,662.6 L354.4,691.3 H361" stroke="#222" stroke-width="1" fill="none"/>
<text x="364.5" y="695.1" font-size="10.85">DNA replication</text>
<path d="M350.6,764.2 L354.4,753.9 H361" stroke="#222" stroke-width="1" fill="none"/>
<text x="364.5" y="757.7" font-size="10.85">Notch signaling</text>
<path d="M349,770.8 H361" stroke="#222" stroke-width="1" fill="none"/>
<text x="364.5" y="774.6" font-size="10.85">JAK/STAT signaling</text>
<path d="M350.6,774.2 L354.4,785.8 H361" stroke="#222" stroke-width="1" fill="none"/>
<text x="364.5" y="789.6" font-size="10.85">Th1/Th2 T cells</text>
<path d="M350.6,782.7 L354.4,801.2 H361" stroke="#222" stroke-width="1" fill="none"/>
<text x="364.5" y="805.0" font-size="10.85">Apotosis</text>
<path d="M350.6,782.7 L354.4,814.4 H361" stroke="#222" stroke-width="1" fill="none"/>
<text x="364.5" y="818.2" font-size="10.85">IL-6 signaling</text>
<path d="M349,847.7 H361" stroke="#222" stroke-width="1" fill="none"/>
<text x="364.5" y="851.5" font-size="10.85">IL-5 signaling</text>
<path d="M350.6,851.2 L354.4,863.9 H361" stroke="#222" stroke-width="1" fill="none"/>
<text x="364.5" y="867.7" font-size="10.85">EPHA4 signaling</text>
<path d="M350.6,851.2 L354.4,879.6 H361" stroke="#222" stroke-width="1" fill="none"/>
<text x="364.5" y="883.4" font-size="10.85">Retinoid signaling</text>
<defs><linearGradient id="cb" x1="0" x2="1" y1="0" y2="0"><stop offset="0" stop-color="#173f8c"/><stop offset="0.15" stop-color="#2f6cc0"/><stop offset="0.32" stop-color="#78b8ea"/><stop offset="0.5" stop-color="#d2f0e4"/><stop offset="0.68" stop-color="#f2d08a"/><stop offset="0.85" stop-color="#f59a34"/><stop offset="1" stop-color="#e0421a"/></linearGradient></defs>
<rect x="54.8" y="904.4" width="90" height="16.6" fill="url(#cb)" stroke="#111" stroke-width="1.2"/>
<text x="148.8" y="909.8" font-size="10.6">Z-transformed</text>
<text x="148.8" y="922.3" font-size="10.6">Enrichment score</text>
</svg></body></html>
